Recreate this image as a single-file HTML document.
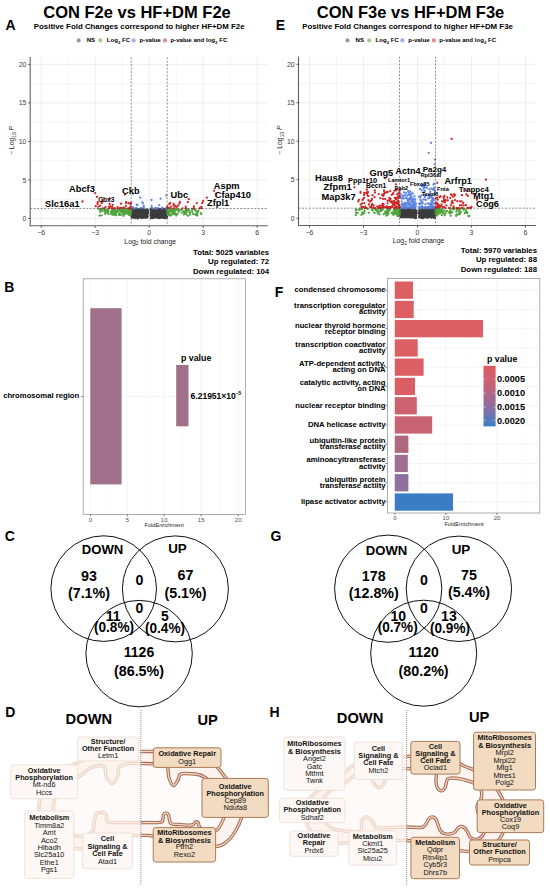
<!DOCTYPE html>
<html><head><meta charset="utf-8"><title>Figure</title>
<style>html,body{margin:0;padding:0;background:#fff;width:550px;height:889px;overflow:hidden}svg{display:block}text{font-family:"Liberation Sans",sans-serif}</style>
</head><body>
<svg width="550" height="889" viewBox="0 0 550 889">
<rect width="550" height="889" fill="#fff"/>
<text x="137.0" y="18.3" font-size="16.5" font-weight="bold" text-anchor="middle" >CON F2e vs HF+DM F2e</text>
<text x="5.6" y="30.3" font-size="14" font-weight="bold" >A</text>
<text x="33.8" y="28.6" font-size="7.87" font-weight="bold" >Positive Fold Changes correspond to higher HF+DM F2e</text>
<circle cx="78.7" cy="40.4" r="2.1" fill="#9a9a9a"/>
<text x="86.7" y="42.4" font-size="6.1" font-weight="bold" >NS</text>
<circle cx="100.4" cy="40.4" r="2.1" fill="#9bd08e"/>
<text x="106.8" y="42.4" font-size="6.1" font-weight="bold" >Log<tspan font-size="4.3" dy="1.3">2</tspan><tspan dy="-1.3"> FC</tspan></text>
<circle cx="133.6" cy="40.4" r="2.1" fill="#9cb1ee"/>
<text x="139.4" y="42.4" font-size="6.1" font-weight="bold" >p-value</text>
<circle cx="165.0" cy="40.4" r="2.1" fill="#e38d8d"/>
<text x="170.4" y="42.4" font-size="6.1" font-weight="bold" >p-value and log<tspan font-size="4.3" dy="1.3">2</tspan><tspan dy="-1.3"> FC</tspan></text>
<text x="410.5" y="18.3" font-size="16.5" font-weight="bold" text-anchor="middle" >CON F3e vs HF+DM F3e</text>
<text x="275.8" y="30.3" font-size="14" font-weight="bold" >E</text>
<text x="302.2" y="28.6" font-size="7.87" font-weight="bold" >Positive Fold Changes correspond to higher HF+DM F3e</text>
<circle cx="347.5" cy="40.4" r="2.1" fill="#9a9a9a"/>
<text x="355.5" y="42.4" font-size="6.1" font-weight="bold" >NS</text>
<circle cx="369.2" cy="40.4" r="2.1" fill="#9bd08e"/>
<text x="375.6" y="42.4" font-size="6.1" font-weight="bold" >Log<tspan font-size="4.3" dy="1.3">2</tspan><tspan dy="-1.3"> FC</tspan></text>
<circle cx="402.4" cy="40.4" r="2.1" fill="#9cb1ee"/>
<text x="408.2" y="42.4" font-size="6.1" font-weight="bold" >p-value</text>
<circle cx="433.8" cy="40.4" r="2.1" fill="#e38d8d"/>
<text x="439.2" y="42.4" font-size="6.1" font-weight="bold" >p-value and log<tspan font-size="4.3" dy="1.3">2</tspan><tspan dy="-1.3"> FC</tspan></text>
<line x1="68.2" y1="57.1" x2="68.2" y2="225.8" stroke="#ededed" stroke-width="0.6"/>
<line x1="122.2" y1="57.1" x2="122.2" y2="225.8" stroke="#ededed" stroke-width="0.6"/>
<line x1="176.2" y1="57.1" x2="176.2" y2="225.8" stroke="#ededed" stroke-width="0.6"/>
<line x1="230.2" y1="57.1" x2="230.2" y2="225.8" stroke="#ededed" stroke-width="0.6"/>
<line x1="30.2" y1="199.2" x2="267.8" y2="199.2" stroke="#ededed" stroke-width="0.6"/>
<line x1="30.2" y1="160.7" x2="267.8" y2="160.7" stroke="#ededed" stroke-width="0.6"/>
<line x1="30.2" y1="122.2" x2="267.8" y2="122.2" stroke="#ededed" stroke-width="0.6"/>
<line x1="30.2" y1="83.7" x2="267.8" y2="83.7" stroke="#ededed" stroke-width="0.6"/>
<line x1="41.2" y1="57.1" x2="41.2" y2="225.8" stroke="#e6e6e6" stroke-width="0.7"/>
<line x1="95.2" y1="57.1" x2="95.2" y2="225.8" stroke="#e6e6e6" stroke-width="0.7"/>
<line x1="149.2" y1="57.1" x2="149.2" y2="225.8" stroke="#e6e6e6" stroke-width="0.7"/>
<line x1="203.2" y1="57.1" x2="203.2" y2="225.8" stroke="#e6e6e6" stroke-width="0.7"/>
<line x1="257.2" y1="57.1" x2="257.2" y2="225.8" stroke="#e6e6e6" stroke-width="0.7"/>
<line x1="30.2" y1="218.5" x2="267.8" y2="218.5" stroke="#e6e6e6" stroke-width="0.7"/>
<line x1="30.2" y1="180.0" x2="267.8" y2="180.0" stroke="#e6e6e6" stroke-width="0.7"/>
<line x1="30.2" y1="141.4" x2="267.8" y2="141.4" stroke="#e6e6e6" stroke-width="0.7"/>
<line x1="30.2" y1="102.9" x2="267.8" y2="102.9" stroke="#e6e6e6" stroke-width="0.7"/>
<line x1="30.2" y1="64.4" x2="267.8" y2="64.4" stroke="#e6e6e6" stroke-width="0.7"/>
<rect x="131.6" y="209.1" width="16.6" height="9.4" fill="#3b3b3b"/>
<rect x="150.3" y="209.1" width="16.6" height="9.4" fill="#3b3b3b"/>
<path d="M141.9 209.5h0M144.5 216.2h0M136.4 209.8h0M131.3 210.3h0M144.9 213.8h0M136.4 215.7h0M135.6 214.0h0M139.9 213.0h0M148.3 210.6h0M141.9 208.6h0M134.9 216.9h0M141.7 218.1h0M131.9 213.3h0M139.2 209.3h0M142.0 213.4h0M139.7 216.0h0M131.5 216.6h0M143.1 216.5h0M137.6 218.5h0M145.4 217.0h0M135.8 209.7h0M140.0 210.0h0M142.2 211.1h0M132.8 213.1h0M139.9 209.8h0M137.4 212.5h0M132.3 214.6h0M136.8 217.0h0M145.2 214.7h0M148.0 212.6h0M141.6 212.1h0M142.8 217.0h0M138.8 216.1h0M138.1 217.5h0M147.8 216.3h0M142.7 215.5h0M146.2 211.9h0M133.5 210.0h0M147.4 209.4h0M141.0 217.0h0M134.5 209.2h0M140.7 216.7h0M146.4 212.1h0M141.0 214.7h0M138.3 216.1h0M131.9 209.7h0M139.2 213.0h0M136.8 211.0h0M131.7 214.8h0M131.8 217.3h0M147.8 211.9h0M138.6 213.3h0M146.2 215.1h0M141.3 211.7h0M137.3 213.3h0M144.3 209.4h0M133.8 209.2h0M131.3 211.0h0M145.1 217.1h0M138.4 210.3h0M131.5 212.2h0M144.8 213.4h0M143.7 216.2h0M134.6 214.9h0M134.3 215.0h0M147.5 212.8h0M137.1 215.8h0M147.5 214.0h0M148.0 213.3h0M140.2 209.5h0M144.0 212.7h0M138.5 209.7h0M138.3 209.3h0M132.4 214.2h0M140.1 209.0h0M135.5 210.4h0M142.8 211.3h0M142.0 208.8h0M136.9 214.5h0M134.7 218.0h0M134.9 209.3h0M145.6 217.4h0M141.6 213.7h0M141.4 211.9h0M136.5 208.9h0M139.2 212.2h0M142.1 216.7h0M132.3 214.4h0M144.3 210.3h0M143.7 217.4h0M165.8 210.5h0M165.2 213.3h0M165.8 218.0h0M150.7 218.3h0M154.5 216.0h0M153.4 212.8h0M150.8 212.6h0M153.0 211.7h0M150.5 215.4h0M166.2 213.1h0M164.0 211.9h0M160.6 216.6h0M160.0 218.1h0M163.9 208.9h0M164.8 218.0h0M155.9 215.3h0M152.1 212.2h0M163.8 215.4h0M164.9 210.5h0M152.4 210.8h0M165.2 216.5h0M160.0 212.1h0M160.6 217.5h0M161.5 212.2h0M164.2 210.5h0M155.7 211.3h0M165.0 209.6h0M152.9 218.2h0M161.3 216.3h0M159.8 209.0h0M156.6 216.0h0M158.0 211.9h0M151.9 214.7h0M152.4 211.9h0M164.4 214.7h0M156.5 213.1h0M153.8 216.0h0M155.8 213.9h0M151.5 211.0h0M160.1 215.5h0M151.5 210.9h0M152.4 217.2h0M152.4 217.7h0M165.6 215.8h0M155.4 210.2h0M160.8 216.6h0M157.6 209.6h0M156.6 211.4h0M151.8 211.2h0M163.4 210.2h0M161.7 214.8h0M151.2 213.3h0M163.1 216.6h0M154.7 213.1h0M162.9 209.5h0M152.3 216.7h0M163.8 212.0h0M162.5 208.5h0M166.2 210.1h0M163.4 214.5h0M161.1 216.7h0M163.1 210.9h0M162.5 214.0h0M156.6 214.3h0M150.7 210.0h0M159.4 214.6h0M159.5 211.3h0M156.7 210.2h0M165.9 214.6h0M152.5 210.9h0M167.1 217.0h0M162.3 210.2h0M165.9 217.3h0M151.7 208.6h0M152.1 216.7h0M160.0 214.0h0M163.0 216.6h0M165.8 216.3h0M163.3 217.8h0M158.2 218.2h0M155.5 215.4h0M162.5 213.9h0M151.1 208.5h0M165.3 209.3h0M154.4 214.6h0M154.0 217.2h0M150.7 213.5h0M152.3 216.7h0M164.9 213.6h0M153.3 211.8h0" stroke="#3b3b3b" stroke-width="2.3" stroke-linecap="round"/>
<path d="M128.8 211.3h0M128.5 211.3h0M117.7 211.2h0M125.9 209.7h0M105.2 213.9h0M130.6 214.5h0M98.4 208.8h0M129.4 208.6h0M129.8 211.4h0M122.8 208.9h0M131.2 212.8h0M118.9 215.0h0M129.3 211.7h0M104.7 209.8h0M107.7 209.8h0M114.1 209.3h0M115.4 210.0h0M128.1 214.0h0M111.7 214.0h0M102.3 210.8h0M127.5 208.8h0M130.4 211.3h0M131.0 208.7h0M119.9 209.6h0M128.5 209.6h0M114.4 210.5h0M100.3 211.9h0M125.4 210.2h0M107.4 212.6h0M115.9 213.6h0M120.8 209.8h0M131.1 210.0h0M131.2 208.7h0M123.7 212.1h0M113.5 211.3h0M113.0 214.8h0M120.4 211.1h0M101.5 215.4h0M124.2 210.6h0M120.9 214.9h0M119.2 213.5h0M129.9 209.2h0M129.9 211.8h0M112.0 210.1h0M120.8 209.6h0M123.8 210.7h0M108.3 210.3h0M117.2 212.1h0M120.6 212.2h0M112.3 212.3h0M123.8 209.9h0M122.6 212.6h0M107.9 212.3h0M106.8 209.7h0M124.4 210.1h0M131.2 212.2h0M105.9 210.9h0M120.6 210.4h0M115.5 210.9h0M125.2 213.8h0M128.3 212.9h0M124.9 208.5h0M127.0 211.8h0M126.5 210.9h0M100.5 209.1h0M126.4 213.1h0M104.5 211.5h0M115.2 215.0h0M105.6 212.8h0M122.9 213.7h0M125.2 209.4h0M107.8 211.6h0M111.1 211.7h0M126.5 211.1h0M129.9 212.7h0M114.2 209.8h0M131.1 210.0h0M108.4 211.8h0M131.1 210.3h0M129.2 210.5h0M126.4 210.6h0M129.0 211.6h0M121.8 210.6h0M129.8 208.7h0M128.4 212.8h0M129.0 215.0h0M125.1 209.8h0M114.0 213.7h0M130.6 212.7h0M111.1 211.5h0M102.1 210.5h0M118.1 209.8h0M112.0 212.5h0M129.0 211.9h0M123.1 214.2h0M124.6 210.6h0M130.6 214.3h0M130.2 213.0h0M99.6 215.6h0M130.1 214.0h0M123.6 215.8h0M124.1 214.0h0M128.8 209.6h0M130.1 210.7h0M125.6 212.0h0M108.4 214.0h0M102.1 209.1h0M116.0 215.2h0M116.2 210.8h0M110.9 213.6h0M100.2 209.1h0M130.8 212.8h0M131.2 209.4h0M102.6 208.5h0M118.4 210.4h0M115.5 211.0h0M100.2 210.8h0M127.4 211.4h0M131.2 210.0h0M114.8 212.0h0M192.0 209.9h0M171.1 214.9h0M167.8 213.8h0M170.4 211.8h0M196.7 213.0h0M194.9 210.3h0M192.2 212.1h0M167.3 209.7h0M169.3 214.2h0M189.1 210.3h0M168.8 213.1h0M197.4 213.1h0M184.1 214.3h0M190.0 214.5h0M176.4 215.4h0M177.6 209.3h0M167.5 213.1h0M187.2 210.7h0M170.6 210.6h0M174.3 209.2h0M170.2 209.8h0M181.1 209.9h0M172.1 210.0h0M183.9 212.2h0M167.3 208.7h0M184.7 213.6h0M185.5 213.0h0M174.8 209.3h0M174.1 213.0h0M170.4 214.9h0M168.9 213.1h0M168.3 215.1h0M174.7 213.6h0M185.9 208.9h0M169.8 211.0h0M176.0 214.9h0M167.8 209.1h0M174.9 209.6h0M167.4 210.8h0M192.9 209.2h0M167.3 211.3h0M171.9 209.8h0M167.4 213.1h0M189.8 211.6h0M174.3 208.7h0M170.7 215.4h0M172.5 214.1h0M167.5 211.0h0M198.3 210.9h0M181.6 212.7h0M178.4 209.9h0M179.1 209.6h0M177.6 213.7h0M178.9 211.5h0M168.2 210.7h0M190.1 214.3h0M177.4 210.0h0M172.8 213.1h0M172.0 211.2h0M183.4 211.1h0M167.6 209.5h0M196.4 214.6h0M169.4 213.9h0M191.9 209.0h0M167.3 212.6h0M168.5 211.6h0M196.3 215.0h0M168.3 211.5h0M176.6 209.9h0M173.8 214.2h0M171.5 208.6h0M186.5 214.5h0M189.6 212.8h0M188.1 215.8h0M193.2 214.0h0M174.4 210.4h0M176.1 214.0h0M167.9 213.0h0M167.3 213.5h0M167.8 211.7h0M171.6 210.9h0M169.9 215.5h0M171.0 209.9h0M169.5 212.1h0M186.7 212.1h0M194.2 208.9h0M170.5 210.0h0M169.4 214.2h0M173.8 210.8h0M197.2 214.2h0M184.6 211.6h0M167.8 208.6h0M183.8 214.4h0M195.3 214.6h0M167.5 212.6h0M197.3 215.5h0M196.1 210.7h0M167.4 211.0h0M174.4 211.0h0M185.8 210.3h0M201.3 214.1h0M189.8 212.1h0M188.2 209.1h0M200.9 213.1h0M174.3 208.8h0M197.8 212.3h0M197.5 212.1h0M172.1 209.8h0M174.8 211.8h0M172.3 211.9h0" stroke="#4fa43d" stroke-width="2.3" stroke-linecap="round"/>
<path d="M134.3 208.5h0M143.7 205.6h0M142.4 202.3h0M135.7 208.1h0M136.4 207.8h0M143.8 207.3h0M137.1 204.8h0M135.0 208.4h0M142.8 203.1h0M136.7 204.8h0M132.7 207.1h0M141.0 208.0h0M137.5 205.1h0M141.2 208.3h0M162.2 208.4h0M166.4 208.2h0M155.1 208.2h0M166.8 207.8h0M160.6 198.7h0M166.1 208.5h0M159.3 205.2h0M162.2 207.6h0M156.2 208.5h0M151.6 205.8h0M152.3 208.2h0M156.3 208.5h0M151.5 200.0h0M157.9 208.2h0M133.1 193.8h0M166.3 195.4h0M140.2 197.7h0" stroke="#5f86e3" stroke-width="2.3" stroke-linecap="round"/>
<path d="M109.0 208.5h0M126.2 202.1h0M100.3 205.7h0M130.0 207.8h0M131.0 208.2h0M131.0 208.4h0M112.3 208.4h0M128.6 202.8h0M123.4 207.7h0M130.1 204.1h0M110.4 206.4h0M112.9 208.4h0M125.8 206.1h0M97.6 203.9h0M111.9 206.6h0M131.1 203.0h0M130.4 208.4h0M109.7 203.9h0M105.5 207.1h0M128.1 208.5h0M102.5 201.9h0M126.2 203.3h0M121.2 207.8h0M117.4 208.5h0M119.7 208.2h0M108.9 206.7h0M101.7 202.9h0M124.1 207.9h0M98.3 206.7h0M129.9 208.5h0M95.7 206.2h0M130.6 206.7h0M117.5 207.2h0M97.7 202.2h0M129.3 208.3h0M121.0 203.7h0M112.7 204.8h0M114.6 208.2h0M104.1 208.5h0M109.5 208.2h0M179.8 201.9h0M182.4 208.5h0M178.3 205.5h0M167.9 208.0h0M167.4 206.5h0M176.6 206.7h0M173.8 205.5h0M170.3 202.8h0M201.3 206.8h0M179.6 203.4h0M173.6 204.0h0M173.5 204.9h0M175.0 206.0h0M199.6 208.5h0M193.9 206.4h0M176.5 207.6h0M168.1 208.0h0M185.8 208.4h0M187.8 202.1h0M202.3 203.0h0M193.9 208.3h0M201.8 208.2h0M196.8 203.1h0M185.8 206.6h0M171.0 206.6h0M173.6 208.4h0M169.3 204.0h0M199.4 208.3h0M167.3 208.0h0M169.4 208.2h0M95.2 193.1h0M82.6 201.5h0M125.0 194.6h0M97.1 196.9h0M102.4 200.0h0M109.7 198.5h0M214.1 190.8h0M215.9 193.8h0M203.2 200.8h0M206.8 197.7h0M188.8 199.2h0" stroke="#cf2626" stroke-width="2.3" stroke-linecap="round"/>
<line x1="131.2" y1="57.1" x2="131.2" y2="225.8" stroke="#444" stroke-width="0.6" stroke-dasharray="2,1.5"/>
<line x1="167.2" y1="57.1" x2="167.2" y2="225.8" stroke="#444" stroke-width="0.6" stroke-dasharray="2,1.5"/>
<line x1="30.2" y1="208.5" x2="267.8" y2="208.5" stroke="#444" stroke-width="0.6" stroke-dasharray="2,1.5"/>
<line x1="30.2" y1="57.1" x2="30.2" y2="226.20000000000002" stroke="#606060" stroke-width="1.1"/>
<line x1="29.7" y1="225.8" x2="267.8" y2="225.8" stroke="#606060" stroke-width="1.1"/>
<line x1="28.2" y1="218.5" x2="30.2" y2="218.5" stroke="#333" stroke-width="0.8"/>
<text x="26.4" y="221.0" font-size="6.9" text-anchor="end" fill="#3a3a3a" >0</text>
<line x1="28.2" y1="180.0" x2="30.2" y2="180.0" stroke="#333" stroke-width="0.8"/>
<text x="26.4" y="182.5" font-size="6.9" text-anchor="end" fill="#3a3a3a" >5</text>
<line x1="28.2" y1="141.4" x2="30.2" y2="141.4" stroke="#333" stroke-width="0.8"/>
<text x="26.4" y="143.9" font-size="6.9" text-anchor="end" fill="#3a3a3a" >10</text>
<line x1="28.2" y1="102.9" x2="30.2" y2="102.9" stroke="#333" stroke-width="0.8"/>
<text x="26.4" y="105.4" font-size="6.9" text-anchor="end" fill="#3a3a3a" >15</text>
<line x1="28.2" y1="64.4" x2="30.2" y2="64.4" stroke="#333" stroke-width="0.8"/>
<text x="26.4" y="66.9" font-size="6.9" text-anchor="end" fill="#3a3a3a" >20</text>
<line x1="41.2" y1="225.8" x2="41.2" y2="227.8" stroke="#333" stroke-width="0.8"/>
<text x="41.2" y="234.9" font-size="6.9" text-anchor="middle" fill="#3a3a3a" >&#8722;6</text>
<line x1="95.2" y1="225.8" x2="95.2" y2="227.8" stroke="#333" stroke-width="0.8"/>
<text x="95.2" y="234.9" font-size="6.9" text-anchor="middle" fill="#3a3a3a" >&#8722;3</text>
<line x1="149.2" y1="225.8" x2="149.2" y2="227.8" stroke="#333" stroke-width="0.8"/>
<text x="149.2" y="234.9" font-size="6.9" text-anchor="middle" fill="#3a3a3a" >0</text>
<line x1="203.2" y1="225.8" x2="203.2" y2="227.8" stroke="#333" stroke-width="0.8"/>
<text x="203.2" y="234.9" font-size="6.9" text-anchor="middle" fill="#3a3a3a" >3</text>
<line x1="257.2" y1="225.8" x2="257.2" y2="227.8" stroke="#333" stroke-width="0.8"/>
<text x="257.2" y="234.9" font-size="6.9" text-anchor="middle" fill="#3a3a3a" >6</text>
<text x="150.2" y="243.70000000000002" font-size="6.9" text-anchor="middle" fill="#222">Log<tspan font-size="4.8" dy="1.5">2</tspan><tspan dy="-1.5"> fold change</tspan></text>
<text transform="translate(14.0,140.45000000000002) rotate(-90)" font-size="6.9" text-anchor="middle" fill="#222">&#8722; Log<tspan font-size="4.8" dy="1.5">10</tspan><tspan dy="-1.5" font-style="italic"> P</tspan></text>
<text x="69.0" y="192.0" font-size="9.3" font-weight="bold" >Abcf3</text>
<text x="45.0" y="207.0" font-size="9.3" font-weight="bold" >Slc16a1</text>
<text x="98.2" y="201.5" font-size="6.6" font-weight="bold" >Cbx3</text>
<text x="122.0" y="194.3" font-size="9.3" font-weight="bold" >Ckb</text>
<text x="170.5" y="198.3" font-size="9.3" font-weight="bold" >Ubc</text>
<text x="213.8" y="189.3" font-size="9.3" font-weight="bold" >Aspm</text>
<text x="214.8" y="197.6" font-size="9.3" font-weight="bold" >Cfap410</text>
<text x="207.0" y="206.4" font-size="9.3" font-weight="bold" >Zfpl1</text>
<line x1="336.5" y1="56.7" x2="336.5" y2="225.5" stroke="#ededed" stroke-width="0.6"/>
<line x1="390.5" y1="56.7" x2="390.5" y2="225.5" stroke="#ededed" stroke-width="0.6"/>
<line x1="444.5" y1="56.7" x2="444.5" y2="225.5" stroke="#ededed" stroke-width="0.6"/>
<line x1="498.5" y1="56.7" x2="498.5" y2="225.5" stroke="#ededed" stroke-width="0.6"/>
<line x1="298.5" y1="199.0" x2="535.8" y2="199.0" stroke="#ededed" stroke-width="0.6"/>
<line x1="298.5" y1="160.5" x2="535.8" y2="160.5" stroke="#ededed" stroke-width="0.6"/>
<line x1="298.5" y1="122.0" x2="535.8" y2="122.0" stroke="#ededed" stroke-width="0.6"/>
<line x1="298.5" y1="83.5" x2="535.8" y2="83.5" stroke="#ededed" stroke-width="0.6"/>
<line x1="309.5" y1="56.7" x2="309.5" y2="225.5" stroke="#e6e6e6" stroke-width="0.7"/>
<line x1="363.5" y1="56.7" x2="363.5" y2="225.5" stroke="#e6e6e6" stroke-width="0.7"/>
<line x1="417.5" y1="56.7" x2="417.5" y2="225.5" stroke="#e6e6e6" stroke-width="0.7"/>
<line x1="471.5" y1="56.7" x2="471.5" y2="225.5" stroke="#e6e6e6" stroke-width="0.7"/>
<line x1="525.5" y1="56.7" x2="525.5" y2="225.5" stroke="#e6e6e6" stroke-width="0.7"/>
<line x1="298.5" y1="218.2" x2="535.8" y2="218.2" stroke="#e6e6e6" stroke-width="0.7"/>
<line x1="298.5" y1="179.7" x2="535.8" y2="179.7" stroke="#e6e6e6" stroke-width="0.7"/>
<line x1="298.5" y1="141.2" x2="535.8" y2="141.2" stroke="#e6e6e6" stroke-width="0.7"/>
<line x1="298.5" y1="102.8" x2="535.8" y2="102.8" stroke="#e6e6e6" stroke-width="0.7"/>
<line x1="298.5" y1="64.3" x2="535.8" y2="64.3" stroke="#e6e6e6" stroke-width="0.7"/>
<rect x="399.9" y="208.8" width="16.6" height="9.4" fill="#3b3b3b"/>
<rect x="418.6" y="208.8" width="16.6" height="9.4" fill="#3b3b3b"/>
<path d="M409.5 214.0h0M406.8 216.1h0M410.9 215.3h0M406.3 213.6h0M415.0 215.7h0M411.8 215.1h0M414.8 214.3h0M408.1 209.4h0M411.0 217.3h0M401.8 208.3h0M400.0 215.2h0M415.9 218.0h0M402.3 216.1h0M401.0 213.5h0M409.6 215.0h0M401.4 210.1h0M413.3 212.6h0M401.9 212.8h0M410.3 213.9h0M414.3 214.3h0M408.2 217.1h0M409.1 210.5h0M412.0 215.6h0M416.5 211.0h0M406.7 214.0h0M412.8 216.4h0M410.4 211.0h0M408.3 209.5h0M407.5 213.5h0M404.4 209.0h0M404.9 211.2h0M406.5 208.8h0M415.7 217.9h0M416.5 212.1h0M400.8 213.2h0M400.3 212.7h0M402.7 214.5h0M404.7 212.2h0M413.6 208.8h0M405.1 212.5h0M399.6 214.5h0M415.9 217.0h0M414.4 211.7h0M404.5 210.4h0M404.4 209.2h0M400.9 217.0h0M412.3 213.7h0M402.0 213.1h0M404.6 212.7h0M412.2 209.6h0M400.5 212.3h0M416.3 213.6h0M412.7 217.2h0M414.4 212.4h0M414.7 210.3h0M414.4 217.6h0M411.7 216.2h0M404.0 215.0h0M409.6 211.9h0M415.4 218.1h0M402.8 214.6h0M413.5 212.7h0M408.3 210.6h0M410.7 215.3h0M401.0 213.6h0M414.6 212.2h0M400.4 213.8h0M406.1 212.4h0M409.5 208.7h0M405.3 214.1h0M410.0 209.3h0M411.6 213.5h0M413.4 213.3h0M416.0 215.4h0M401.7 209.9h0M404.6 209.7h0M409.9 213.1h0M401.0 210.3h0M400.6 208.5h0M414.5 215.2h0M401.7 209.3h0M407.7 217.0h0M408.0 215.7h0M406.5 211.8h0M415.2 210.2h0M402.3 213.4h0M407.9 208.3h0M401.0 213.1h0M415.1 214.2h0M404.0 212.6h0M423.9 208.9h0M419.9 216.1h0M419.8 211.1h0M423.4 209.2h0M433.7 208.8h0M422.8 218.2h0M425.0 208.6h0M431.5 217.6h0M430.4 209.0h0M434.9 211.0h0M433.2 209.8h0M424.5 217.2h0M430.8 216.8h0M425.0 208.2h0M428.0 213.0h0M434.6 215.4h0M435.5 209.1h0M424.6 214.9h0M420.6 209.0h0M421.6 218.1h0M433.6 212.2h0M429.9 210.9h0M419.1 217.3h0M426.9 217.7h0M427.0 210.8h0M429.6 212.0h0M419.2 215.8h0M433.7 217.0h0M427.5 217.7h0M434.5 216.5h0M425.4 212.7h0M430.7 208.8h0M431.0 214.7h0M419.7 211.1h0M435.0 218.0h0M431.6 216.4h0M426.3 213.0h0M428.9 208.3h0M430.2 214.3h0M430.6 213.5h0M425.5 214.5h0M426.8 215.4h0M422.5 216.7h0M425.9 215.3h0M432.7 209.7h0M424.3 212.0h0M433.8 214.6h0M427.9 213.8h0M429.5 208.6h0M420.8 208.5h0M429.8 210.2h0M429.3 209.5h0M424.0 211.1h0M422.9 213.1h0M430.1 216.2h0M419.4 210.3h0M432.2 211.5h0M423.9 211.6h0M419.8 211.6h0M428.3 212.0h0M426.0 215.9h0M430.8 213.6h0M431.1 214.6h0M419.9 212.8h0M429.0 209.0h0M433.6 217.6h0M431.6 215.6h0M430.3 214.4h0M423.9 213.3h0M427.5 211.3h0M429.3 211.4h0M425.0 211.4h0M424.3 212.1h0M426.3 212.6h0M418.7 213.2h0M422.2 214.3h0M419.7 211.6h0M433.7 214.7h0M420.2 212.0h0M420.6 209.3h0M420.5 214.6h0M426.9 217.0h0M423.9 215.4h0M430.6 208.3h0M424.6 210.3h0M420.8 212.4h0M425.8 215.3h0M432.5 210.7h0M420.7 215.3h0M432.4 208.3h0" stroke="#3b3b3b" stroke-width="2.3" stroke-linecap="round"/>
<path d="M390.2 208.9h0M356.7 209.7h0M388.5 213.5h0M397.6 210.5h0M364.3 212.8h0M397.2 215.7h0M385.3 211.7h0M377.7 213.4h0M387.6 210.2h0M395.6 213.8h0M397.0 209.7h0M399.3 214.8h0M395.7 213.3h0M377.4 209.3h0M361.9 209.1h0M388.3 213.8h0M375.4 209.8h0M381.8 210.0h0M374.7 212.8h0M386.9 211.2h0M398.1 212.6h0M399.4 211.4h0M397.7 211.9h0M372.6 210.1h0M386.4 208.3h0M399.2 211.2h0M399.5 212.1h0M361.3 214.8h0M381.0 209.0h0M394.3 209.4h0M396.2 212.4h0M394.4 213.7h0M398.5 212.8h0M356.1 212.5h0M399.1 208.5h0M399.4 208.4h0M372.4 210.3h0M396.5 213.7h0M399.5 214.6h0M397.9 212.0h0M364.6 211.1h0M355.8 209.9h0M399.4 210.9h0M399.4 215.4h0M362.1 212.5h0M399.3 214.6h0M388.0 211.6h0M399.5 209.9h0M398.9 209.5h0M395.0 211.1h0M395.8 210.1h0M355.9 209.4h0M399.5 211.3h0M399.1 214.6h0M399.3 213.2h0M360.0 209.7h0M372.4 210.0h0M398.4 212.1h0M396.2 212.9h0M396.7 209.5h0M399.5 213.0h0M395.2 210.1h0M388.4 209.8h0M399.5 213.8h0M398.5 212.9h0M381.1 208.2h0M386.2 215.5h0M398.6 209.3h0M364.5 210.7h0M398.0 212.4h0M389.1 209.0h0M398.1 213.7h0M399.5 214.3h0M372.6 210.5h0M355.8 215.0h0M397.7 209.4h0M387.5 215.1h0M397.1 210.4h0M385.9 211.6h0M399.3 208.4h0M395.6 209.9h0M393.4 214.9h0M399.1 215.1h0M399.3 213.7h0M396.8 212.6h0M397.7 209.3h0M399.5 214.6h0M376.8 211.1h0M396.3 213.1h0M393.1 213.5h0M371.9 209.2h0M398.3 215.7h0M368.8 212.8h0M387.8 209.0h0M377.6 209.0h0M394.9 209.1h0M395.7 213.1h0M395.2 212.5h0M380.2 209.2h0M399.4 214.0h0M397.4 211.6h0M360.5 208.5h0M359.1 209.8h0M386.6 213.0h0M397.6 216.1h0M374.4 213.0h0M399.5 212.7h0M398.3 209.8h0M399.5 213.4h0M367.8 209.0h0M389.3 210.9h0M399.1 208.9h0M380.7 211.2h0M399.4 213.5h0M397.5 212.5h0M399.5 212.0h0M396.0 212.9h0M397.4 212.5h0M397.5 210.5h0M394.7 213.7h0M377.9 211.2h0M395.8 209.9h0M381.4 209.1h0M376.5 210.2h0M383.7 214.1h0M385.2 213.2h0M398.9 214.4h0M397.2 215.8h0M387.8 209.7h0M379.5 214.4h0M388.7 209.1h0M399.5 213.7h0M398.8 211.6h0M399.3 211.0h0M398.0 210.3h0M393.6 210.1h0M399.0 209.9h0M382.7 209.8h0M399.5 208.5h0M391.8 213.0h0M396.4 211.2h0M394.0 213.2h0M398.9 212.3h0M379.1 211.7h0M399.5 211.6h0M399.2 215.9h0M357.7 212.8h0M393.3 212.3h0M399.5 208.8h0M363.1 213.8h0M440.8 212.2h0M436.2 210.2h0M456.5 209.6h0M450.7 215.8h0M436.9 211.2h0M452.1 212.1h0M441.7 209.1h0M435.5 213.1h0M437.9 208.2h0M436.9 215.3h0M440.7 210.3h0M436.1 209.1h0M436.5 210.0h0M436.2 208.9h0M436.6 209.8h0M459.9 213.2h0M435.7 210.7h0M443.3 211.4h0M456.4 211.6h0M443.2 211.4h0M441.9 212.0h0M436.1 212.8h0M437.4 213.2h0M456.5 214.5h0M436.6 211.1h0M438.3 213.3h0M439.6 211.3h0M450.6 208.4h0M460.9 211.8h0M441.8 211.9h0M437.0 208.5h0M435.6 213.6h0M450.0 210.7h0M437.7 208.6h0M440.5 210.7h0M435.7 208.8h0M435.7 212.1h0M463.1 208.5h0M464.3 209.2h0M437.0 215.6h0M441.8 215.1h0M468.4 216.0h0M438.5 213.6h0M435.5 211.3h0M435.6 208.8h0M451.3 212.2h0M460.1 209.4h0M438.6 209.1h0M466.1 210.5h0M439.1 208.8h0M467.1 212.4h0M435.7 209.0h0M450.2 213.4h0M445.8 212.7h0M465.4 212.5h0M436.5 215.4h0M438.9 208.3h0M436.8 211.6h0M469.3 216.0h0M438.0 209.2h0M435.7 208.6h0M459.7 214.2h0M446.9 210.9h0M451.6 212.7h0M439.9 213.3h0M437.9 213.9h0M464.4 208.8h0M439.3 210.0h0M443.0 213.0h0M439.1 208.4h0M438.9 210.8h0M467.3 212.8h0M458.1 214.5h0M453.7 209.3h0M459.9 208.3h0M452.5 208.3h0M437.7 211.2h0M436.7 214.9h0M441.4 209.9h0M456.2 215.8h0M467.1 213.2h0M437.9 209.2h0M463.6 209.8h0M438.7 211.6h0M459.7 212.3h0M457.9 209.5h0M442.3 208.8h0M439.9 209.7h0M449.0 212.5h0M444.5 210.6h0M444.7 214.5h0M470.8 208.4h0M435.5 208.5h0M444.5 214.4h0M458.8 211.8h0M452.6 209.2h0M444.7 215.3h0M458.9 210.0h0M464.8 213.0h0M456.6 208.9h0" stroke="#4fa43d" stroke-width="2.3" stroke-linecap="round"/>
<path d="M405.6 205.7h0M405.3 208.2h0M403.6 206.6h0M401.6 198.4h0M406.8 203.1h0M404.5 206.3h0M412.1 204.8h0M409.5 205.5h0M408.9 194.3h0M404.2 204.0h0M411.0 208.1h0M415.4 204.4h0M403.8 198.5h0M413.1 201.8h0M414.7 208.1h0M408.4 199.0h0M414.7 201.5h0M409.6 206.0h0M409.1 203.4h0M414.5 196.5h0M411.8 193.3h0M400.9 198.2h0M407.4 198.7h0M404.7 204.9h0M413.2 208.2h0M404.6 204.5h0M413.7 207.2h0M413.2 207.4h0M404.8 203.4h0M410.5 194.8h0M414.1 207.4h0M411.9 201.7h0M406.1 198.1h0M414.4 204.7h0M414.7 208.0h0M402.6 198.4h0M404.8 202.7h0M407.9 207.9h0M412.1 199.0h0M402.2 207.3h0M412.8 193.7h0M414.0 204.3h0M405.8 205.2h0M402.7 204.4h0M403.6 207.9h0M406.0 208.2h0M407.5 200.2h0M410.4 191.4h0M414.2 201.7h0M414.4 205.2h0M412.8 207.1h0M408.4 191.3h0M409.6 204.2h0M412.6 206.8h0M413.3 208.2h0M403.7 207.8h0M404.0 192.5h0M400.2 207.0h0M409.2 200.0h0M412.4 206.1h0M403.4 195.7h0M401.8 208.2h0M403.6 204.5h0M415.1 199.4h0M409.0 204.0h0M411.1 201.9h0M405.3 208.1h0M403.1 197.9h0M410.1 197.4h0M400.6 194.1h0M406.1 193.2h0M409.5 203.5h0M413.1 201.9h0M410.8 207.9h0M409.7 206.4h0M401.1 208.0h0M407.6 207.3h0M412.3 208.0h0M400.1 190.6h0M404.9 204.2h0M403.3 207.6h0M406.4 197.7h0M400.5 196.2h0M415.9 203.3h0M405.7 207.5h0M402.8 206.7h0M413.7 208.2h0M412.6 200.9h0M400.2 208.1h0M411.8 200.8h0M404.9 195.5h0M403.3 205.5h0M401.7 201.4h0M401.3 207.8h0M412.3 204.3h0M410.6 199.2h0M409.7 207.7h0M411.2 208.0h0M404.2 205.2h0M401.7 208.1h0M410.4 199.0h0M405.9 206.0h0M403.2 204.0h0M409.3 193.0h0M400.5 193.9h0M415.9 206.5h0M411.6 196.6h0M410.4 207.0h0M410.0 194.9h0M401.6 204.7h0M400.2 196.0h0M412.5 208.2h0M411.9 200.3h0M401.9 203.9h0M411.0 206.6h0M408.0 191.4h0M410.2 204.3h0M400.9 208.0h0M413.6 199.0h0M413.4 202.9h0M409.2 203.8h0M411.8 206.7h0M407.9 204.8h0M410.6 207.6h0M400.3 208.1h0M402.8 195.6h0M411.5 198.8h0M407.1 208.1h0M407.4 195.4h0M408.1 201.8h0M425.0 207.9h0M429.1 203.9h0M424.5 207.2h0M430.2 206.6h0M428.3 207.2h0M431.1 205.9h0M426.7 187.6h0M430.6 196.4h0M424.4 192.0h0M425.2 184.3h0M433.5 199.1h0M432.4 202.5h0M430.8 208.0h0M435.0 193.8h0M421.2 207.4h0M428.3 195.3h0M421.4 185.8h0M424.5 183.9h0M431.1 203.8h0M424.8 208.1h0M420.4 200.1h0M431.5 188.7h0M424.9 187.1h0M423.7 187.0h0M433.8 207.9h0M432.9 197.6h0M430.3 192.0h0M427.6 203.4h0M424.9 190.8h0M433.5 207.9h0M431.4 207.1h0M421.9 207.7h0M428.2 207.0h0M422.9 208.1h0M424.2 194.9h0M419.3 203.9h0M428.7 208.2h0M423.7 188.7h0M435.0 191.5h0M421.7 195.3h0M426.2 207.8h0M426.7 187.9h0M433.2 205.6h0M420.0 189.0h0M434.9 203.3h0M422.6 202.5h0M430.2 203.9h0M424.7 207.3h0M423.7 208.2h0M423.1 186.3h0M419.1 196.7h0M431.7 205.4h0M428.6 207.5h0M429.8 197.5h0M430.8 203.7h0M434.7 190.7h0M428.2 198.4h0M423.4 186.8h0M429.4 189.3h0M423.6 184.6h0M420.6 202.8h0M420.7 207.7h0M431.3 208.2h0M425.1 207.7h0M432.7 208.1h0M424.4 191.2h0M430.1 197.6h0M435.0 208.2h0M429.7 196.0h0M431.1 197.2h0M420.1 208.1h0M431.5 200.6h0M423.2 208.2h0M427.6 208.1h0M431.1 206.3h0M432.0 208.1h0M426.9 208.1h0M431.6 202.1h0M422.7 185.7h0M430.0 206.4h0M432.8 205.8h0M434.2 206.9h0M434.9 208.2h0M430.8 206.9h0M425.8 199.9h0M419.7 207.5h0M420.6 196.3h0M422.5 203.6h0M424.3 207.4h0M434.1 203.4h0M429.5 197.6h0M432.2 207.2h0M420.2 204.2h0M421.7 208.2h0M433.8 200.2h0M425.7 208.0h0M431.3 202.8h0M421.8 184.6h0M434.3 187.7h0M432.3 202.8h0M423.8 199.4h0M421.4 200.5h0M420.0 208.2h0M430.5 206.3h0M430.2 194.6h0M432.5 200.5h0M432.7 199.2h0M434.0 189.2h0M419.6 207.2h0M425.2 207.3h0M421.8 190.4h0M419.3 207.8h0M431.3 207.5h0M423.1 185.5h0M431.3 204.6h0M421.1 207.1h0M434.8 194.2h0M420.1 197.5h0M425.0 197.0h0M423.7 208.0h0M419.3 206.9h0M432.9 189.5h0M430.0 195.9h0M422.1 206.2h0M433.5 184.4h0M426.1 194.8h0M434.1 183.7h0M423.7 199.3h0M425.3 204.3h0M426.4 207.1h0M431.0 142.8h0M428.7 152.8h0M435.1 159.7h0M434.6 164.3h0" stroke="#5f86e3" stroke-width="2.3" stroke-linecap="round"/>
<path d="M399.5 196.3h0M378.7 194.1h0M398.3 206.8h0M384.0 191.1h0M389.6 207.1h0M384.1 190.4h0M367.9 192.3h0M391.9 206.5h0M367.7 195.7h0M369.0 204.6h0M395.7 206.7h0M367.7 191.7h0M393.3 193.1h0M392.9 203.7h0M385.4 206.9h0M396.1 206.4h0M396.3 202.4h0M399.0 195.9h0M398.0 203.7h0M381.7 207.7h0M391.9 201.4h0M386.2 192.5h0M373.4 207.8h0M370.2 201.6h0M379.7 207.5h0M389.6 198.1h0M372.6 195.2h0M397.2 194.4h0M385.3 198.9h0M369.0 204.4h0M364.2 192.9h0M371.9 204.8h0M387.2 207.4h0M375.0 192.6h0M398.2 196.9h0M378.8 208.1h0M364.4 203.1h0M396.1 208.2h0M373.6 205.5h0M387.8 207.2h0M383.5 204.5h0M372.0 198.9h0M377.2 206.6h0M399.3 192.9h0M363.0 199.5h0M364.0 197.9h0M383.5 204.2h0M393.7 202.9h0M397.1 204.0h0M388.1 208.2h0M392.5 206.2h0M382.1 195.0h0M383.1 199.0h0M383.1 206.5h0M393.0 194.0h0M362.2 207.3h0M399.5 190.3h0M368.4 200.4h0M371.3 200.7h0M365.3 206.7h0M390.6 198.8h0M397.3 197.7h0M396.2 197.8h0M372.1 204.1h0M358.9 199.8h0M375.1 208.2h0M398.8 197.8h0M362.5 199.9h0M364.7 208.1h0M366.2 193.0h0M382.4 204.0h0M378.2 206.7h0M380.3 198.2h0M386.7 206.5h0M399.5 207.2h0M370.2 207.0h0M399.2 206.6h0M387.6 200.8h0M367.2 193.7h0M360.5 192.8h0M390.4 207.6h0M361.5 206.8h0M382.7 206.4h0M371.3 207.1h0M391.5 206.9h0M368.4 200.1h0M382.2 205.8h0M398.0 193.6h0M374.6 197.2h0M358.3 201.4h0M397.9 200.3h0M395.6 202.4h0M390.1 201.3h0M364.1 195.0h0M391.7 194.8h0M368.4 196.1h0M386.1 192.3h0M388.7 207.9h0M396.0 199.2h0M392.9 204.1h0M392.2 207.2h0M399.0 208.1h0M380.0 205.7h0M390.2 191.1h0M382.5 195.0h0M374.8 190.5h0M399.3 204.8h0M362.0 203.4h0M362.1 207.3h0M399.3 192.4h0M391.8 202.5h0M363.0 206.9h0M360.6 204.6h0M396.6 206.8h0M387.6 203.3h0M366.6 208.1h0M399.4 207.5h0M383.5 195.9h0M389.2 200.2h0M381.6 208.2h0M396.6 189.0h0M394.4 190.8h0M388.7 206.9h0M399.5 207.0h0M394.7 203.8h0M390.5 201.7h0M389.5 208.2h0M396.1 190.3h0M399.5 197.2h0M389.4 197.9h0M394.4 205.0h0M387.7 192.0h0M394.5 208.0h0M399.4 192.9h0M394.9 207.8h0M384.0 194.0h0M383.8 207.6h0M392.0 206.4h0M399.5 190.1h0M390.1 207.7h0M366.7 189.5h0M371.4 206.6h0M397.7 202.2h0M384.6 193.0h0M360.6 192.0h0M394.1 200.9h0M398.7 202.3h0M399.2 207.8h0M398.7 206.0h0M395.0 197.9h0M435.8 207.9h0M452.4 201.0h0M455.0 200.1h0M452.7 203.2h0M456.5 208.0h0M437.7 199.7h0M437.4 203.5h0M438.7 205.0h0M461.5 201.3h0M443.9 206.8h0M459.9 201.3h0M443.7 196.8h0M454.1 194.1h0M452.7 196.1h0M447.8 200.3h0M461.9 208.0h0M444.9 202.3h0M435.7 198.6h0M455.2 195.2h0M441.6 204.5h0M466.0 205.2h0M461.5 205.1h0M440.6 206.7h0M437.7 205.0h0M436.9 197.8h0M469.9 208.0h0M435.7 208.2h0M467.2 208.1h0M453.5 206.5h0M437.5 207.0h0M453.9 208.2h0M463.2 202.9h0M438.2 207.3h0M452.3 201.8h0M440.1 206.2h0M444.5 195.8h0M447.3 197.5h0M451.7 203.0h0M445.5 200.9h0M445.5 200.0h0M437.2 206.3h0M463.7 205.4h0M462.0 195.2h0M448.9 208.0h0M457.3 201.2h0M439.4 197.0h0M445.2 208.1h0M435.8 207.2h0M450.3 198.1h0M436.1 208.2h0M450.8 205.3h0M443.8 198.0h0M466.4 194.4h0M458.5 208.2h0M436.7 202.6h0M468.7 208.0h0M446.4 205.4h0M442.6 206.8h0M438.9 207.1h0M436.1 203.1h0M443.9 200.2h0M451.6 194.8h0M440.7 196.5h0M442.0 201.3h0M459.9 205.4h0M443.9 201.8h0M436.2 203.5h0M436.0 207.2h0M450.9 194.3h0M471.5 206.9h0M451.7 138.9h0M485.9 179.7h0M466.1 190.5h0M473.3 193.6h0M367.1 179.7h0M354.5 187.4h0M385.1 178.2h0M395.9 184.3h0M437.3 182.8h0M453.5 196.7h0M476.9 199.7h0M467.9 195.9h0" stroke="#cf2626" stroke-width="2.3" stroke-linecap="round"/>
<line x1="399.5" y1="56.7" x2="399.5" y2="225.5" stroke="#444" stroke-width="0.6" stroke-dasharray="2,1.5"/>
<line x1="435.5" y1="56.7" x2="435.5" y2="225.5" stroke="#444" stroke-width="0.6" stroke-dasharray="2,1.5"/>
<line x1="298.5" y1="208.2" x2="535.8" y2="208.2" stroke="#444" stroke-width="0.6" stroke-dasharray="2,1.5"/>
<line x1="298.5" y1="56.7" x2="298.5" y2="225.9" stroke="#606060" stroke-width="1.1"/>
<line x1="298.0" y1="225.5" x2="535.8" y2="225.5" stroke="#606060" stroke-width="1.1"/>
<line x1="296.5" y1="218.2" x2="298.5" y2="218.2" stroke="#333" stroke-width="0.8"/>
<text x="294.7" y="220.7" font-size="6.9" text-anchor="end" fill="#3a3a3a" >0</text>
<line x1="296.5" y1="179.7" x2="298.5" y2="179.7" stroke="#333" stroke-width="0.8"/>
<text x="294.7" y="182.2" font-size="6.9" text-anchor="end" fill="#3a3a3a" >5</text>
<line x1="296.5" y1="141.2" x2="298.5" y2="141.2" stroke="#333" stroke-width="0.8"/>
<text x="294.7" y="143.8" font-size="6.9" text-anchor="end" fill="#3a3a3a" >10</text>
<line x1="296.5" y1="102.8" x2="298.5" y2="102.8" stroke="#333" stroke-width="0.8"/>
<text x="294.7" y="105.3" font-size="6.9" text-anchor="end" fill="#3a3a3a" >15</text>
<line x1="296.5" y1="64.3" x2="298.5" y2="64.3" stroke="#333" stroke-width="0.8"/>
<text x="294.7" y="66.8" font-size="6.9" text-anchor="end" fill="#3a3a3a" >20</text>
<line x1="309.5" y1="225.5" x2="309.5" y2="227.5" stroke="#333" stroke-width="0.8"/>
<text x="309.5" y="234.6" font-size="6.9" text-anchor="middle" fill="#3a3a3a" >&#8722;6</text>
<line x1="363.5" y1="225.5" x2="363.5" y2="227.5" stroke="#333" stroke-width="0.8"/>
<text x="363.5" y="234.6" font-size="6.9" text-anchor="middle" fill="#3a3a3a" >&#8722;3</text>
<line x1="417.5" y1="225.5" x2="417.5" y2="227.5" stroke="#333" stroke-width="0.8"/>
<text x="417.5" y="234.6" font-size="6.9" text-anchor="middle" fill="#3a3a3a" >0</text>
<line x1="471.5" y1="225.5" x2="471.5" y2="227.5" stroke="#333" stroke-width="0.8"/>
<text x="471.5" y="234.6" font-size="6.9" text-anchor="middle" fill="#3a3a3a" >3</text>
<line x1="525.5" y1="225.5" x2="525.5" y2="227.5" stroke="#333" stroke-width="0.8"/>
<text x="525.5" y="234.6" font-size="6.9" text-anchor="middle" fill="#3a3a3a" >6</text>
<text x="418.5" y="243.4" font-size="6.9" text-anchor="middle" fill="#222">Log<tspan font-size="4.8" dy="1.5">2</tspan><tspan dy="-1.5"> fold change</tspan></text>
<text transform="translate(282.3,140.1) rotate(-90)" font-size="6.9" text-anchor="middle" fill="#222">&#8722; Log<tspan font-size="4.8" dy="1.5">10</tspan><tspan dy="-1.5" font-style="italic"> P</tspan></text>
<text x="314.9" y="180.5" font-size="9.4" font-weight="bold" >Haus8</text>
<text x="348.0" y="182.5" font-size="7.4" font-weight="bold" >Ppp1r10</text>
<text x="323.6" y="190.3" font-size="9.4" font-weight="bold" >Zfpm1</text>
<text x="321.5" y="200.3" font-size="9.3" font-weight="bold" >Map3k7</text>
<text x="369.5" y="176.4" font-size="9.3" font-weight="bold" >Gng5</text>
<text x="366.0" y="188.2" font-size="6.8" font-weight="bold" >Becn1</text>
<text x="395.5" y="174.2" font-size="9.0" font-weight="bold" >Actn4</text>
<text x="422.7" y="171.8" font-size="8.0" font-weight="bold" >Pa2g4</text>
<text x="420.4" y="176.5" font-size="5.8" font-weight="bold" >Rpl36al</text>
<text x="388.0" y="182.4" font-size="5.6" font-weight="bold" >Lamtor1</text>
<text x="394.5" y="190.0" font-size="5.6" font-weight="bold" >Dab2</text>
<text x="410.0" y="186.4" font-size="5.6" font-weight="bold" >Fbxo35</text>
<text x="437.0" y="190.5" font-size="5.6" font-weight="bold" >Fnta</text>
<text x="421.8" y="196.4" font-size="5.4" font-weight="bold" >Tceal8</text>
<text x="444.5" y="183.6" font-size="9.1" font-weight="bold" >Arfrp1</text>
<text x="458.7" y="191.5" font-size="7.9" font-weight="bold" >Trappc4</text>
<text x="473.3" y="199.1" font-size="8.9" font-weight="bold" >Mtg1</text>
<text x="476.0" y="206.8" font-size="9.2" font-weight="bold" >Cog6</text>
<text x="269.2" y="255.0" font-size="7.8" font-weight="bold" text-anchor="end" >Total: 5025 variables</text>
<text x="269.2" y="264.4" font-size="7.8" font-weight="bold" text-anchor="end" >Up regulated: 72</text>
<text x="269.2" y="274.0" font-size="7.8" font-weight="bold" text-anchor="end" >Down regulated: 104</text>
<text x="537.0" y="252.6" font-size="7.8" font-weight="bold" text-anchor="end" >Total: 5970 variables</text>
<text x="537.0" y="262.4" font-size="7.8" font-weight="bold" text-anchor="end" >Up regulated: 88</text>
<text x="537.0" y="271.6" font-size="7.8" font-weight="bold" text-anchor="end" >Down regulated: 188</text>
<text x="4.3" y="292.3" font-size="14" font-weight="bold" >B</text>
<line x1="90.3" y1="278.8" x2="90.3" y2="514.5" stroke="#ebebeb" stroke-width="0.6"/>
<line x1="108.8" y1="278.8" x2="108.8" y2="514.5" stroke="#f4f4f4" stroke-width="0.4"/>
<line x1="127.3" y1="278.8" x2="127.3" y2="514.5" stroke="#ebebeb" stroke-width="0.6"/>
<line x1="145.8" y1="278.8" x2="145.8" y2="514.5" stroke="#f4f4f4" stroke-width="0.4"/>
<line x1="164.2" y1="278.8" x2="164.2" y2="514.5" stroke="#ebebeb" stroke-width="0.6"/>
<line x1="182.7" y1="278.8" x2="182.7" y2="514.5" stroke="#f4f4f4" stroke-width="0.4"/>
<line x1="201.2" y1="278.8" x2="201.2" y2="514.5" stroke="#ebebeb" stroke-width="0.6"/>
<line x1="219.7" y1="278.8" x2="219.7" y2="514.5" stroke="#f4f4f4" stroke-width="0.4"/>
<line x1="238.2" y1="278.8" x2="238.2" y2="514.5" stroke="#ebebeb" stroke-width="0.6"/>
<line x1="83.2" y1="396.6" x2="245.6" y2="396.6" stroke="#ebebeb" stroke-width="0.6"/>
<rect x="90.3" y="308.2" width="31.3" height="176.2" fill="#a1718b"/>
<rect x="83.2" y="278.8" width="162.4" height="235.7" fill="none" stroke="#9a9a9a" stroke-width="0.8"/>
<rect x="176.2" y="365" width="12.3" height="61.3" fill="#a1718b"/>
<text x="181.0" y="360.6" font-size="8.8" font-weight="bold" >p value</text>
<text x="190.6" y="399.3" font-size="8.5" font-weight="bold">6.21951×10<tspan font-size="4.8" dy="-4">&#8722;5</tspan></text>
<text x="79.2" y="398.1" font-size="7.7" font-weight="bold" text-anchor="end" >chromosomal region</text>
<line x1="81.2" y1="396.6" x2="83.2" y2="396.6" stroke="#333" stroke-width="0.6"/>
<line x1="90.3" y1="514.5" x2="90.3" y2="516.5" stroke="#333" stroke-width="0.6"/>
<text x="90.3" y="521.5" font-size="6" text-anchor="middle" fill="#4d4d4d" >0</text>
<line x1="127.3" y1="514.5" x2="127.3" y2="516.5" stroke="#333" stroke-width="0.6"/>
<text x="127.3" y="521.5" font-size="6" text-anchor="middle" fill="#4d4d4d" >5</text>
<line x1="164.2" y1="514.5" x2="164.2" y2="516.5" stroke="#333" stroke-width="0.6"/>
<text x="164.2" y="521.5" font-size="6" text-anchor="middle" fill="#4d4d4d" >10</text>
<line x1="201.2" y1="514.5" x2="201.2" y2="516.5" stroke="#333" stroke-width="0.6"/>
<text x="201.2" y="521.5" font-size="6" text-anchor="middle" fill="#4d4d4d" >15</text>
<line x1="238.2" y1="514.5" x2="238.2" y2="516.5" stroke="#333" stroke-width="0.6"/>
<text x="238.2" y="521.5" font-size="6" text-anchor="middle" fill="#4d4d4d" >20</text>
<text x="164.2" y="527.2" font-size="5.6" text-anchor="middle" fill="#222" >FoldEnrichment</text>
<text x="274.8" y="297.3" font-size="14" font-weight="bold" >F</text>
<line x1="394.8" y1="278.4" x2="394.8" y2="513" stroke="#ebebeb" stroke-width="0.6"/>
<line x1="420.4" y1="278.4" x2="420.4" y2="513" stroke="#f4f4f4" stroke-width="0.4"/>
<line x1="445.9" y1="278.4" x2="445.9" y2="513" stroke="#ebebeb" stroke-width="0.6"/>
<line x1="471.5" y1="278.4" x2="471.5" y2="513" stroke="#f4f4f4" stroke-width="0.4"/>
<line x1="497.0" y1="278.4" x2="497.0" y2="513" stroke="#ebebeb" stroke-width="0.6"/>
<line x1="522.6" y1="278.4" x2="522.6" y2="513" stroke="#f4f4f4" stroke-width="0.4"/>
<line x1="387.5" y1="290.1" x2="539.8" y2="290.1" stroke="#ebebeb" stroke-width="0.6"/>
<line x1="387.5" y1="309.4" x2="539.8" y2="309.4" stroke="#ebebeb" stroke-width="0.6"/>
<line x1="387.5" y1="328.7" x2="539.8" y2="328.7" stroke="#ebebeb" stroke-width="0.6"/>
<line x1="387.5" y1="347.9" x2="539.8" y2="347.9" stroke="#ebebeb" stroke-width="0.6"/>
<line x1="387.5" y1="367.2" x2="539.8" y2="367.2" stroke="#ebebeb" stroke-width="0.6"/>
<line x1="387.5" y1="386.4" x2="539.8" y2="386.4" stroke="#ebebeb" stroke-width="0.6"/>
<line x1="387.5" y1="405.7" x2="539.8" y2="405.7" stroke="#ebebeb" stroke-width="0.6"/>
<line x1="387.5" y1="425.0" x2="539.8" y2="425.0" stroke="#ebebeb" stroke-width="0.6"/>
<line x1="387.5" y1="444.2" x2="539.8" y2="444.2" stroke="#ebebeb" stroke-width="0.6"/>
<line x1="387.5" y1="463.5" x2="539.8" y2="463.5" stroke="#ebebeb" stroke-width="0.6"/>
<line x1="387.5" y1="482.8" x2="539.8" y2="482.8" stroke="#ebebeb" stroke-width="0.6"/>
<line x1="387.5" y1="502.0" x2="539.8" y2="502.0" stroke="#ebebeb" stroke-width="0.6"/>
<rect x="394.8" y="281.5" width="18.2" height="17.3" fill="#dc5f63"/>
<line x1="385.3" y1="290.1" x2="387.5" y2="290.1" stroke="#333" stroke-width="0.6"/>
<text x="385.5" y="292.3" font-size="7.7" font-weight="bold" text-anchor="end" >condensed chromosome</text>
<rect x="394.8" y="300.8" width="18.9" height="17.3" fill="#dc5f63"/>
<line x1="385.3" y1="309.4" x2="387.5" y2="309.4" stroke="#333" stroke-width="0.6"/>
<text x="385.5" y="308.3" font-size="7.7" font-weight="bold" text-anchor="end" >transcription coregulator</text>
<text x="385.5" y="314.4" font-size="7.7" font-weight="bold" text-anchor="end" >activity</text>
<rect x="394.8" y="320.0" width="88.2" height="17.3" fill="#dc5f63"/>
<line x1="385.3" y1="328.7" x2="387.5" y2="328.7" stroke="#333" stroke-width="0.6"/>
<text x="385.5" y="327.6" font-size="7.7" font-weight="bold" text-anchor="end" >nuclear thyroid hormone</text>
<text x="385.5" y="333.7" font-size="7.7" font-weight="bold" text-anchor="end" >receptor binding</text>
<rect x="394.8" y="339.3" width="22.9" height="17.3" fill="#db5f64"/>
<line x1="385.3" y1="347.9" x2="387.5" y2="347.9" stroke="#333" stroke-width="0.6"/>
<text x="385.5" y="346.8" font-size="7.7" font-weight="bold" text-anchor="end" >transcription coactivator</text>
<text x="385.5" y="352.9" font-size="7.7" font-weight="bold" text-anchor="end" >activity</text>
<rect x="394.8" y="358.5" width="28.8" height="17.3" fill="#db5f64"/>
<line x1="385.3" y1="367.2" x2="387.5" y2="367.2" stroke="#333" stroke-width="0.6"/>
<text x="385.5" y="366.1" font-size="7.7" font-weight="bold" text-anchor="end" >ATP-dependent activity,</text>
<text x="385.5" y="372.2" font-size="7.7" font-weight="bold" text-anchor="end" >acting on DNA</text>
<rect x="394.8" y="377.8" width="20.2" height="17.3" fill="#da5f65"/>
<line x1="385.3" y1="386.4" x2="387.5" y2="386.4" stroke="#333" stroke-width="0.6"/>
<text x="385.5" y="385.3" font-size="7.7" font-weight="bold" text-anchor="end" >catalytic activity, acting</text>
<text x="385.5" y="391.4" font-size="7.7" font-weight="bold" text-anchor="end" >on DNA</text>
<rect x="394.8" y="397.1" width="22.0" height="17.3" fill="#cc6270"/>
<line x1="385.3" y1="405.7" x2="387.5" y2="405.7" stroke="#333" stroke-width="0.6"/>
<text x="385.5" y="407.9" font-size="7.7" font-weight="bold" text-anchor="end" >nuclear receptor binding</text>
<rect x="394.8" y="416.3" width="37.4" height="17.3" fill="#c86373"/>
<line x1="385.3" y1="425.0" x2="387.5" y2="425.0" stroke="#333" stroke-width="0.6"/>
<text x="385.5" y="427.2" font-size="7.7" font-weight="bold" text-anchor="end" >DNA helicase activity</text>
<rect x="394.8" y="435.6" width="13.6" height="17.3" fill="#b0687f"/>
<line x1="385.3" y1="444.2" x2="387.5" y2="444.2" stroke="#333" stroke-width="0.6"/>
<text x="385.5" y="443.1" font-size="7.7" font-weight="bold" text-anchor="end" >ubiquitin-like protein</text>
<text x="385.5" y="449.2" font-size="7.7" font-weight="bold" text-anchor="end" >transferase actiity</text>
<rect x="394.8" y="454.8" width="13.0" height="17.3" fill="#a06e91"/>
<line x1="385.3" y1="463.5" x2="387.5" y2="463.5" stroke="#333" stroke-width="0.6"/>
<text x="385.5" y="462.4" font-size="7.7" font-weight="bold" text-anchor="end" >aminoacyltransferase</text>
<text x="385.5" y="468.5" font-size="7.7" font-weight="bold" text-anchor="end" >activity</text>
<rect x="394.8" y="474.1" width="13.6" height="17.3" fill="#8f71a0"/>
<line x1="385.3" y1="482.8" x2="387.5" y2="482.8" stroke="#333" stroke-width="0.6"/>
<text x="385.5" y="481.6" font-size="7.7" font-weight="bold" text-anchor="end" >ubiquitin protein</text>
<text x="385.5" y="487.8" font-size="7.7" font-weight="bold" text-anchor="end" >transferase actiity</text>
<rect x="394.8" y="493.4" width="58.2" height="17.3" fill="#3a7dc4"/>
<line x1="385.3" y1="502.0" x2="387.5" y2="502.0" stroke="#333" stroke-width="0.6"/>
<text x="385.5" y="504.2" font-size="7.7" font-weight="bold" text-anchor="end" >lipase activator activity</text>
<rect x="387.5" y="278.4" width="152.3" height="234.6" fill="none" stroke="#9a9a9a" stroke-width="0.8"/>
<defs><linearGradient id="pg" x1="0" y1="0" x2="0" y2="1"><stop offset="0" stop-color="#e05b5f"/><stop offset="0.35" stop-color="#c2627a"/><stop offset="0.7" stop-color="#8a70a3"/><stop offset="1" stop-color="#3a7fc8"/></linearGradient></defs>
<rect x="483.5" y="365.8" width="12.1" height="60.6" fill="url(#pg)"/>
<text x="487.0" y="362.2" font-size="8.8" font-weight="bold" >p value</text>
<text x="496.9" y="382.4" font-size="9.2" font-weight="bold" >0.0005</text>
<line x1="483.5" y1="379.2" x2="485.5" y2="379.2" stroke="#fff" stroke-width="0.5"/>
<line x1="493.6" y1="379.2" x2="495.6" y2="379.2" stroke="#fff" stroke-width="0.5"/>
<text x="496.9" y="396.3" font-size="9.2" font-weight="bold" >0.0010</text>
<line x1="483.5" y1="393.1" x2="485.5" y2="393.1" stroke="#fff" stroke-width="0.5"/>
<line x1="493.6" y1="393.1" x2="495.6" y2="393.1" stroke="#fff" stroke-width="0.5"/>
<text x="496.9" y="410.3" font-size="9.2" font-weight="bold" >0.0015</text>
<line x1="483.5" y1="407.1" x2="485.5" y2="407.1" stroke="#fff" stroke-width="0.5"/>
<line x1="493.6" y1="407.1" x2="495.6" y2="407.1" stroke="#fff" stroke-width="0.5"/>
<text x="496.9" y="423.5" font-size="9.2" font-weight="bold" >0.0020</text>
<line x1="483.5" y1="420.3" x2="485.5" y2="420.3" stroke="#fff" stroke-width="0.5"/>
<line x1="493.6" y1="420.3" x2="495.6" y2="420.3" stroke="#fff" stroke-width="0.5"/>
<line x1="394.8" y1="513" x2="394.8" y2="515" stroke="#333" stroke-width="0.6"/>
<text x="394.8" y="520.4" font-size="6" text-anchor="middle" fill="#4d4d4d" >0</text>
<line x1="445.9" y1="513" x2="445.9" y2="515" stroke="#333" stroke-width="0.6"/>
<text x="445.9" y="520.4" font-size="6" text-anchor="middle" fill="#4d4d4d" >10</text>
<line x1="497.0" y1="513" x2="497.0" y2="515" stroke="#333" stroke-width="0.6"/>
<text x="497.0" y="520.4" font-size="6" text-anchor="middle" fill="#4d4d4d" >20</text>
<text x="464.0" y="526.2" font-size="5.6" text-anchor="middle" fill="#222" >FoldEnrichment</text>
<text x="4.8" y="540.5" font-size="14" font-weight="bold" >C</text>
<circle cx="103.7" cy="588.6" r="52.8" fill="none" stroke="#111" stroke-width="1"/>
<circle cx="175.4" cy="588.9" r="53" fill="none" stroke="#111" stroke-width="1"/>
<circle cx="139.1" cy="653.6" r="53.2" fill="none" stroke="#111" stroke-width="1"/>
<text x="102.5" y="554.2" font-size="13.1" font-weight="bold" text-anchor="middle" >DOWN</text>
<text x="177.5" y="553.4" font-size="13.4" font-weight="bold" text-anchor="middle" >UP</text>
<text x="89.0" y="580.6" font-size="14.3" font-weight="bold" text-anchor="middle" >93</text>
<text x="89.0" y="597.6" font-size="14.3" font-weight="bold" text-anchor="middle" >(7.1%)</text>
<text x="139.5" y="584.5" font-size="14.2" font-weight="bold" text-anchor="middle" >0</text>
<text x="185.5" y="580.0" font-size="14.3" font-weight="bold" text-anchor="middle" >67</text>
<text x="185.5" y="597.6" font-size="14.3" font-weight="bold" text-anchor="middle" >(5.1%)</text>
<text x="139.5" y="612.8" font-size="14" font-weight="bold" text-anchor="middle" >0</text>
<text x="113.2" y="621.0" font-size="14" font-weight="bold" text-anchor="middle" >11</text>
<text transform="translate(114,632) scale(1,1.12)" font-size="13.6" font-weight="bold" text-anchor="middle">(0.8%)</text>
<text x="165.0" y="621.0" font-size="14" font-weight="bold" text-anchor="middle" >5</text>
<text transform="translate(165,632.8) scale(1,1.12)" font-size="13.6" font-weight="bold" text-anchor="middle">(0.4%)</text>
<text x="139.0" y="657.3" font-size="14" font-weight="bold" text-anchor="middle" >1126</text>
<text x="139.0" y="675.7" font-size="14.3" font-weight="bold" text-anchor="middle" >(86.5%)</text>
<text x="270.6" y="540.5" font-size="14" font-weight="bold" >G</text>
<circle cx="388.2" cy="588.7" r="53.6" fill="none" stroke="#111" stroke-width="1"/>
<circle cx="458.9" cy="588.8" r="52.7" fill="none" stroke="#111" stroke-width="1"/>
<circle cx="423.7" cy="653.2" r="53" fill="none" stroke="#111" stroke-width="1"/>
<text x="386.5" y="555.2" font-size="13.1" font-weight="bold" text-anchor="middle" >DOWN</text>
<text x="461.0" y="553.6" font-size="13.4" font-weight="bold" text-anchor="middle" >UP</text>
<text x="373.8" y="580.6" font-size="14.3" font-weight="bold" text-anchor="middle" >178</text>
<text x="373.8" y="597.6" font-size="14.3" font-weight="bold" text-anchor="middle" >(12.8%)</text>
<text x="424.0" y="584.5" font-size="14.2" font-weight="bold" text-anchor="middle" >0</text>
<text x="469.0" y="579.7" font-size="14.3" font-weight="bold" text-anchor="middle" >75</text>
<text x="469.0" y="596.5" font-size="14.3" font-weight="bold" text-anchor="middle" >(5.4%)</text>
<text x="424.0" y="612.8" font-size="14" font-weight="bold" text-anchor="middle" >0</text>
<text x="398.2" y="621.4" font-size="14" font-weight="bold" text-anchor="middle" >10</text>
<text transform="translate(397.7,632) scale(1,1.12)" font-size="13.6" font-weight="bold" text-anchor="middle">(0.7%)</text>
<text x="448.9" y="621.4" font-size="14" font-weight="bold" text-anchor="middle" >13</text>
<text transform="translate(450,632.5) scale(1,1.12)" font-size="13.6" font-weight="bold" text-anchor="middle">(0.9%)</text>
<text x="423.6" y="657.3" font-size="14" font-weight="bold" text-anchor="middle" >1120</text>
<text x="423.6" y="675.7" font-size="14.3" font-weight="bold" text-anchor="middle" >(80.2%)</text>
<defs><clipPath id="cDl"><rect x="0" y="690" width="140.9" height="199"/></clipPath><clipPath id="cDr"><rect x="140.9" y="690" width="134.1" height="199"/></clipPath><clipPath id="cHl"><rect x="275" y="690" width="131.8" height="199"/></clipPath><clipPath id="cHr"><rect x="406.8" y="690" width="143.2" height="199"/></clipPath></defs>
<g clip-path="url(#cDl)">
<path d="M141.0 751.5C149.3 751.5 161.0 751.3 170.0 751.5C179.0 751.7 187.8 750.6 195.0 752.5C202.2 754.4 207.8 758.8 213.0 763.0C218.2 767.2 221.8 773.2 226.0 778.0C230.2 782.8 235.0 787.5 238.0 792.0C241.0 796.5 243.4 800.7 244.0 805.0C244.6 809.3 242.8 813.8 241.5 818.0C240.2 822.2 238.2 826.3 236.0 830.0C233.8 833.7 231.9 837.2 228.6 840.0C225.3 842.8 223.3 846.2 216.0 846.5C208.7 846.8 195.5 843.8 185.0 842.0C174.5 840.2 160.3 837.1 153.0 836.0C145.7 834.9 144.8 835.5 141.0 835.5C137.2 835.5 136.8 834.8 130.0 836.0C123.2 837.2 108.7 840.8 100.0 843.0C91.3 845.2 85.5 849.8 78.0 849.0C70.5 848.2 61.2 842.8 55.0 838.0C48.8 833.2 43.7 825.5 41.0 820.0C38.3 814.5 38.3 810.7 39.0 805.0C39.7 799.3 41.5 791.7 45.0 786.0C48.5 780.3 54.7 774.8 60.0 771.0C65.3 767.2 71.2 765.8 77.0 763.0C82.8 760.2 87.8 755.9 95.0 754.0C102.2 752.1 112.3 751.9 120.0 751.5C127.7 751.1 132.7 751.5 141.0 751.5Z" fill="#fdf4f0"/>
<path d="M141.0 763.5C146.0 763.6 155.7 763.7 160.0 764.0C164.3 764.3 165.5 763.2 167.0 765.5C168.5 767.8 167.9 774.7 169.0 778.0C170.1 781.3 172.1 785.3 173.7 785.5C175.3 785.7 177.4 780.8 178.5 779.0C179.6 777.2 178.8 775.4 180.0 774.5C181.2 773.6 182.7 773.4 186.0 773.5C189.3 773.6 196.0 773.8 200.0 775.0C204.0 776.2 206.3 778.2 210.0 781.0C213.7 783.8 219.2 788.3 222.0 792.0C224.8 795.7 226.5 799.2 227.0 803.0C227.5 806.8 226.7 810.5 225.0 815.0C223.3 819.5 220.0 827.3 217.0 830.0C214.0 832.7 209.8 831.4 207.0 831.0C204.2 830.6 201.5 828.9 200.0 827.5C198.5 826.1 198.8 823.4 198.0 822.5C197.2 821.6 196.5 821.6 195.5 822.0C194.5 822.4 194.6 824.6 192.0 825.0C189.4 825.4 183.5 824.8 180.0 824.5C176.5 824.2 172.9 825.1 171.0 823.5C169.1 821.9 169.3 816.8 168.5 815.0C167.7 813.2 166.8 813.0 166.0 813.0C165.2 813.0 164.2 813.5 163.5 815.0C162.8 816.5 163.8 820.8 161.5 822.0C159.2 823.2 156.9 822.4 150.0 822.5C143.1 822.6 127.0 822.6 120.0 822.5C113.0 822.4 110.3 823.4 108.0 822.0C105.7 820.6 107.2 815.6 106.0 814.0C104.8 812.4 102.7 812.2 101.0 812.2C99.3 812.2 97.2 812.0 96.0 814.0C94.8 816.0 94.7 821.0 94.0 824.0C93.3 827.0 94.7 830.0 92.0 832.0C89.3 834.0 83.0 836.7 78.0 836.0C73.0 835.3 65.8 831.3 62.0 828.0C58.2 824.7 56.4 819.8 55.0 816.0C53.6 812.2 53.0 809.2 53.5 805.0C54.0 800.8 55.8 794.8 58.0 791.0C60.2 787.2 63.6 784.3 67.0 782.0C70.4 779.7 74.4 779.4 78.5 777.0C82.6 774.6 87.5 769.2 91.8 767.5C96.0 765.8 101.6 765.1 104.0 766.5C106.4 767.9 104.7 773.2 106.0 776.0C107.3 778.8 110.1 783.2 112.0 783.4C113.9 783.6 116.2 779.7 117.5 777.0C118.8 774.3 117.4 769.2 119.5 767.0C121.6 764.8 126.4 764.2 130.0 763.6C133.6 763.0 136.0 763.4 141.0 763.5Z" fill="#fefaf9"/>
<path d="M141.0 751.5C149.3 751.5 161.0 751.3 170.0 751.5C179.0 751.7 187.8 750.6 195.0 752.5C202.2 754.4 207.8 758.8 213.0 763.0C218.2 767.2 221.8 773.2 226.0 778.0C230.2 782.8 235.0 787.5 238.0 792.0C241.0 796.5 243.4 800.7 244.0 805.0C244.6 809.3 242.8 813.8 241.5 818.0C240.2 822.2 238.2 826.3 236.0 830.0C233.8 833.7 231.9 837.2 228.6 840.0C225.3 842.8 223.3 846.2 216.0 846.5C208.7 846.8 195.5 843.8 185.0 842.0C174.5 840.2 160.3 837.1 153.0 836.0C145.7 834.9 144.8 835.5 141.0 835.5C137.2 835.5 136.8 834.8 130.0 836.0C123.2 837.2 108.7 840.8 100.0 843.0C91.3 845.2 85.5 849.8 78.0 849.0C70.5 848.2 61.2 842.8 55.0 838.0C48.8 833.2 43.7 825.5 41.0 820.0C38.3 814.5 38.3 810.7 39.0 805.0C39.7 799.3 41.5 791.7 45.0 786.0C48.5 780.3 54.7 774.8 60.0 771.0C65.3 767.2 71.2 765.8 77.0 763.0C82.8 760.2 87.8 755.9 95.0 754.0C102.2 752.1 112.3 751.9 120.0 751.5C127.7 751.1 132.7 751.5 141.0 751.5Z" fill="none" stroke="#ecd3c6" stroke-width="3.4" stroke-linejoin="round"/>
<path d="M141.0 751.5C149.3 751.5 161.0 751.3 170.0 751.5C179.0 751.7 187.8 750.6 195.0 752.5C202.2 754.4 207.8 758.8 213.0 763.0C218.2 767.2 221.8 773.2 226.0 778.0C230.2 782.8 235.0 787.5 238.0 792.0C241.0 796.5 243.4 800.7 244.0 805.0C244.6 809.3 242.8 813.8 241.5 818.0C240.2 822.2 238.2 826.3 236.0 830.0C233.8 833.7 231.9 837.2 228.6 840.0C225.3 842.8 223.3 846.2 216.0 846.5C208.7 846.8 195.5 843.8 185.0 842.0C174.5 840.2 160.3 837.1 153.0 836.0C145.7 834.9 144.8 835.5 141.0 835.5C137.2 835.5 136.8 834.8 130.0 836.0C123.2 837.2 108.7 840.8 100.0 843.0C91.3 845.2 85.5 849.8 78.0 849.0C70.5 848.2 61.2 842.8 55.0 838.0C48.8 833.2 43.7 825.5 41.0 820.0C38.3 814.5 38.3 810.7 39.0 805.0C39.7 799.3 41.5 791.7 45.0 786.0C48.5 780.3 54.7 774.8 60.0 771.0C65.3 767.2 71.2 765.8 77.0 763.0C82.8 760.2 87.8 755.9 95.0 754.0C102.2 752.1 112.3 751.9 120.0 751.5C127.7 751.1 132.7 751.5 141.0 751.5Z" fill="none" stroke="#fbefe9" stroke-width="1.3" stroke-linejoin="round"/>
<path d="M141.0 763.5C146.0 763.6 155.7 763.7 160.0 764.0C164.3 764.3 165.5 763.2 167.0 765.5C168.5 767.8 167.9 774.7 169.0 778.0C170.1 781.3 172.1 785.3 173.7 785.5C175.3 785.7 177.4 780.8 178.5 779.0C179.6 777.2 178.8 775.4 180.0 774.5C181.2 773.6 182.7 773.4 186.0 773.5C189.3 773.6 196.0 773.8 200.0 775.0C204.0 776.2 206.3 778.2 210.0 781.0C213.7 783.8 219.2 788.3 222.0 792.0C224.8 795.7 226.5 799.2 227.0 803.0C227.5 806.8 226.7 810.5 225.0 815.0C223.3 819.5 220.0 827.3 217.0 830.0C214.0 832.7 209.8 831.4 207.0 831.0C204.2 830.6 201.5 828.9 200.0 827.5C198.5 826.1 198.8 823.4 198.0 822.5C197.2 821.6 196.5 821.6 195.5 822.0C194.5 822.4 194.6 824.6 192.0 825.0C189.4 825.4 183.5 824.8 180.0 824.5C176.5 824.2 172.9 825.1 171.0 823.5C169.1 821.9 169.3 816.8 168.5 815.0C167.7 813.2 166.8 813.0 166.0 813.0C165.2 813.0 164.2 813.5 163.5 815.0C162.8 816.5 163.8 820.8 161.5 822.0C159.2 823.2 156.9 822.4 150.0 822.5C143.1 822.6 127.0 822.6 120.0 822.5C113.0 822.4 110.3 823.4 108.0 822.0C105.7 820.6 107.2 815.6 106.0 814.0C104.8 812.4 102.7 812.2 101.0 812.2C99.3 812.2 97.2 812.0 96.0 814.0C94.8 816.0 94.7 821.0 94.0 824.0C93.3 827.0 94.7 830.0 92.0 832.0C89.3 834.0 83.0 836.7 78.0 836.0C73.0 835.3 65.8 831.3 62.0 828.0C58.2 824.7 56.4 819.8 55.0 816.0C53.6 812.2 53.0 809.2 53.5 805.0C54.0 800.8 55.8 794.8 58.0 791.0C60.2 787.2 63.6 784.3 67.0 782.0C70.4 779.7 74.4 779.4 78.5 777.0C82.6 774.6 87.5 769.2 91.8 767.5C96.0 765.8 101.6 765.1 104.0 766.5C106.4 767.9 104.7 773.2 106.0 776.0C107.3 778.8 110.1 783.2 112.0 783.4C113.9 783.6 116.2 779.7 117.5 777.0C118.8 774.3 117.4 769.2 119.5 767.0C121.6 764.8 126.4 764.2 130.0 763.6C133.6 763.0 136.0 763.4 141.0 763.5Z" fill="none" stroke="#ecd3c6" stroke-width="3.4" stroke-linejoin="round"/>
<path d="M141.0 763.5C146.0 763.6 155.7 763.7 160.0 764.0C164.3 764.3 165.5 763.2 167.0 765.5C168.5 767.8 167.9 774.7 169.0 778.0C170.1 781.3 172.1 785.3 173.7 785.5C175.3 785.7 177.4 780.8 178.5 779.0C179.6 777.2 178.8 775.4 180.0 774.5C181.2 773.6 182.7 773.4 186.0 773.5C189.3 773.6 196.0 773.8 200.0 775.0C204.0 776.2 206.3 778.2 210.0 781.0C213.7 783.8 219.2 788.3 222.0 792.0C224.8 795.7 226.5 799.2 227.0 803.0C227.5 806.8 226.7 810.5 225.0 815.0C223.3 819.5 220.0 827.3 217.0 830.0C214.0 832.7 209.8 831.4 207.0 831.0C204.2 830.6 201.5 828.9 200.0 827.5C198.5 826.1 198.8 823.4 198.0 822.5C197.2 821.6 196.5 821.6 195.5 822.0C194.5 822.4 194.6 824.6 192.0 825.0C189.4 825.4 183.5 824.8 180.0 824.5C176.5 824.2 172.9 825.1 171.0 823.5C169.1 821.9 169.3 816.8 168.5 815.0C167.7 813.2 166.8 813.0 166.0 813.0C165.2 813.0 164.2 813.5 163.5 815.0C162.8 816.5 163.8 820.8 161.5 822.0C159.2 823.2 156.9 822.4 150.0 822.5C143.1 822.6 127.0 822.6 120.0 822.5C113.0 822.4 110.3 823.4 108.0 822.0C105.7 820.6 107.2 815.6 106.0 814.0C104.8 812.4 102.7 812.2 101.0 812.2C99.3 812.2 97.2 812.0 96.0 814.0C94.8 816.0 94.7 821.0 94.0 824.0C93.3 827.0 94.7 830.0 92.0 832.0C89.3 834.0 83.0 836.7 78.0 836.0C73.0 835.3 65.8 831.3 62.0 828.0C58.2 824.7 56.4 819.8 55.0 816.0C53.6 812.2 53.0 809.2 53.5 805.0C54.0 800.8 55.8 794.8 58.0 791.0C60.2 787.2 63.6 784.3 67.0 782.0C70.4 779.7 74.4 779.4 78.5 777.0C82.6 774.6 87.5 769.2 91.8 767.5C96.0 765.8 101.6 765.1 104.0 766.5C106.4 767.9 104.7 773.2 106.0 776.0C107.3 778.8 110.1 783.2 112.0 783.4C113.9 783.6 116.2 779.7 117.5 777.0C118.8 774.3 117.4 769.2 119.5 767.0C121.6 764.8 126.4 764.2 130.0 763.6C133.6 763.0 136.0 763.4 141.0 763.5Z" fill="none" stroke="#fbefe9" stroke-width="1.3" stroke-linejoin="round"/>
</g>
<g clip-path="url(#cDr)">
<path d="M141.0 751.5C149.3 751.5 161.0 751.3 170.0 751.5C179.0 751.7 187.8 750.6 195.0 752.5C202.2 754.4 207.8 758.8 213.0 763.0C218.2 767.2 221.8 773.2 226.0 778.0C230.2 782.8 235.0 787.5 238.0 792.0C241.0 796.5 243.4 800.7 244.0 805.0C244.6 809.3 242.8 813.8 241.5 818.0C240.2 822.2 238.2 826.3 236.0 830.0C233.8 833.7 231.9 837.2 228.6 840.0C225.3 842.8 223.3 846.2 216.0 846.5C208.7 846.8 195.5 843.8 185.0 842.0C174.5 840.2 160.3 837.1 153.0 836.0C145.7 834.9 144.8 835.5 141.0 835.5C137.2 835.5 136.8 834.8 130.0 836.0C123.2 837.2 108.7 840.8 100.0 843.0C91.3 845.2 85.5 849.8 78.0 849.0C70.5 848.2 61.2 842.8 55.0 838.0C48.8 833.2 43.7 825.5 41.0 820.0C38.3 814.5 38.3 810.7 39.0 805.0C39.7 799.3 41.5 791.7 45.0 786.0C48.5 780.3 54.7 774.8 60.0 771.0C65.3 767.2 71.2 765.8 77.0 763.0C82.8 760.2 87.8 755.9 95.0 754.0C102.2 752.1 112.3 751.9 120.0 751.5C127.7 751.1 132.7 751.5 141.0 751.5Z" fill="#fdf4f0"/>
<path d="M141.0 763.5C146.0 763.6 155.7 763.7 160.0 764.0C164.3 764.3 165.5 763.2 167.0 765.5C168.5 767.8 167.9 774.7 169.0 778.0C170.1 781.3 172.1 785.3 173.7 785.5C175.3 785.7 177.4 780.8 178.5 779.0C179.6 777.2 178.8 775.4 180.0 774.5C181.2 773.6 182.7 773.4 186.0 773.5C189.3 773.6 196.0 773.8 200.0 775.0C204.0 776.2 206.3 778.2 210.0 781.0C213.7 783.8 219.2 788.3 222.0 792.0C224.8 795.7 226.5 799.2 227.0 803.0C227.5 806.8 226.7 810.5 225.0 815.0C223.3 819.5 220.0 827.3 217.0 830.0C214.0 832.7 209.8 831.4 207.0 831.0C204.2 830.6 201.5 828.9 200.0 827.5C198.5 826.1 198.8 823.4 198.0 822.5C197.2 821.6 196.5 821.6 195.5 822.0C194.5 822.4 194.6 824.6 192.0 825.0C189.4 825.4 183.5 824.8 180.0 824.5C176.5 824.2 172.9 825.1 171.0 823.5C169.1 821.9 169.3 816.8 168.5 815.0C167.7 813.2 166.8 813.0 166.0 813.0C165.2 813.0 164.2 813.5 163.5 815.0C162.8 816.5 163.8 820.8 161.5 822.0C159.2 823.2 156.9 822.4 150.0 822.5C143.1 822.6 127.0 822.6 120.0 822.5C113.0 822.4 110.3 823.4 108.0 822.0C105.7 820.6 107.2 815.6 106.0 814.0C104.8 812.4 102.7 812.2 101.0 812.2C99.3 812.2 97.2 812.0 96.0 814.0C94.8 816.0 94.7 821.0 94.0 824.0C93.3 827.0 94.7 830.0 92.0 832.0C89.3 834.0 83.0 836.7 78.0 836.0C73.0 835.3 65.8 831.3 62.0 828.0C58.2 824.7 56.4 819.8 55.0 816.0C53.6 812.2 53.0 809.2 53.5 805.0C54.0 800.8 55.8 794.8 58.0 791.0C60.2 787.2 63.6 784.3 67.0 782.0C70.4 779.7 74.4 779.4 78.5 777.0C82.6 774.6 87.5 769.2 91.8 767.5C96.0 765.8 101.6 765.1 104.0 766.5C106.4 767.9 104.7 773.2 106.0 776.0C107.3 778.8 110.1 783.2 112.0 783.4C113.9 783.6 116.2 779.7 117.5 777.0C118.8 774.3 117.4 769.2 119.5 767.0C121.6 764.8 126.4 764.2 130.0 763.6C133.6 763.0 136.0 763.4 141.0 763.5Z" fill="#fefbfa"/>
<path d="M141.0 751.5C149.3 751.5 161.0 751.3 170.0 751.5C179.0 751.7 187.8 750.6 195.0 752.5C202.2 754.4 207.8 758.8 213.0 763.0C218.2 767.2 221.8 773.2 226.0 778.0C230.2 782.8 235.0 787.5 238.0 792.0C241.0 796.5 243.4 800.7 244.0 805.0C244.6 809.3 242.8 813.8 241.5 818.0C240.2 822.2 238.2 826.3 236.0 830.0C233.8 833.7 231.9 837.2 228.6 840.0C225.3 842.8 223.3 846.2 216.0 846.5C208.7 846.8 195.5 843.8 185.0 842.0C174.5 840.2 160.3 837.1 153.0 836.0C145.7 834.9 144.8 835.5 141.0 835.5C137.2 835.5 136.8 834.8 130.0 836.0C123.2 837.2 108.7 840.8 100.0 843.0C91.3 845.2 85.5 849.8 78.0 849.0C70.5 848.2 61.2 842.8 55.0 838.0C48.8 833.2 43.7 825.5 41.0 820.0C38.3 814.5 38.3 810.7 39.0 805.0C39.7 799.3 41.5 791.7 45.0 786.0C48.5 780.3 54.7 774.8 60.0 771.0C65.3 767.2 71.2 765.8 77.0 763.0C82.8 760.2 87.8 755.9 95.0 754.0C102.2 752.1 112.3 751.9 120.0 751.5C127.7 751.1 132.7 751.5 141.0 751.5Z" fill="none" stroke="#a56d55" stroke-width="3.4" stroke-linejoin="round"/>
<path d="M141.0 751.5C149.3 751.5 161.0 751.3 170.0 751.5C179.0 751.7 187.8 750.6 195.0 752.5C202.2 754.4 207.8 758.8 213.0 763.0C218.2 767.2 221.8 773.2 226.0 778.0C230.2 782.8 235.0 787.5 238.0 792.0C241.0 796.5 243.4 800.7 244.0 805.0C244.6 809.3 242.8 813.8 241.5 818.0C240.2 822.2 238.2 826.3 236.0 830.0C233.8 833.7 231.9 837.2 228.6 840.0C225.3 842.8 223.3 846.2 216.0 846.5C208.7 846.8 195.5 843.8 185.0 842.0C174.5 840.2 160.3 837.1 153.0 836.0C145.7 834.9 144.8 835.5 141.0 835.5C137.2 835.5 136.8 834.8 130.0 836.0C123.2 837.2 108.7 840.8 100.0 843.0C91.3 845.2 85.5 849.8 78.0 849.0C70.5 848.2 61.2 842.8 55.0 838.0C48.8 833.2 43.7 825.5 41.0 820.0C38.3 814.5 38.3 810.7 39.0 805.0C39.7 799.3 41.5 791.7 45.0 786.0C48.5 780.3 54.7 774.8 60.0 771.0C65.3 767.2 71.2 765.8 77.0 763.0C82.8 760.2 87.8 755.9 95.0 754.0C102.2 752.1 112.3 751.9 120.0 751.5C127.7 751.1 132.7 751.5 141.0 751.5Z" fill="none" stroke="#f3d3c3" stroke-width="1.3" stroke-linejoin="round"/>
<path d="M141.0 763.5C146.0 763.6 155.7 763.7 160.0 764.0C164.3 764.3 165.5 763.2 167.0 765.5C168.5 767.8 167.9 774.7 169.0 778.0C170.1 781.3 172.1 785.3 173.7 785.5C175.3 785.7 177.4 780.8 178.5 779.0C179.6 777.2 178.8 775.4 180.0 774.5C181.2 773.6 182.7 773.4 186.0 773.5C189.3 773.6 196.0 773.8 200.0 775.0C204.0 776.2 206.3 778.2 210.0 781.0C213.7 783.8 219.2 788.3 222.0 792.0C224.8 795.7 226.5 799.2 227.0 803.0C227.5 806.8 226.7 810.5 225.0 815.0C223.3 819.5 220.0 827.3 217.0 830.0C214.0 832.7 209.8 831.4 207.0 831.0C204.2 830.6 201.5 828.9 200.0 827.5C198.5 826.1 198.8 823.4 198.0 822.5C197.2 821.6 196.5 821.6 195.5 822.0C194.5 822.4 194.6 824.6 192.0 825.0C189.4 825.4 183.5 824.8 180.0 824.5C176.5 824.2 172.9 825.1 171.0 823.5C169.1 821.9 169.3 816.8 168.5 815.0C167.7 813.2 166.8 813.0 166.0 813.0C165.2 813.0 164.2 813.5 163.5 815.0C162.8 816.5 163.8 820.8 161.5 822.0C159.2 823.2 156.9 822.4 150.0 822.5C143.1 822.6 127.0 822.6 120.0 822.5C113.0 822.4 110.3 823.4 108.0 822.0C105.7 820.6 107.2 815.6 106.0 814.0C104.8 812.4 102.7 812.2 101.0 812.2C99.3 812.2 97.2 812.0 96.0 814.0C94.8 816.0 94.7 821.0 94.0 824.0C93.3 827.0 94.7 830.0 92.0 832.0C89.3 834.0 83.0 836.7 78.0 836.0C73.0 835.3 65.8 831.3 62.0 828.0C58.2 824.7 56.4 819.8 55.0 816.0C53.6 812.2 53.0 809.2 53.5 805.0C54.0 800.8 55.8 794.8 58.0 791.0C60.2 787.2 63.6 784.3 67.0 782.0C70.4 779.7 74.4 779.4 78.5 777.0C82.6 774.6 87.5 769.2 91.8 767.5C96.0 765.8 101.6 765.1 104.0 766.5C106.4 767.9 104.7 773.2 106.0 776.0C107.3 778.8 110.1 783.2 112.0 783.4C113.9 783.6 116.2 779.7 117.5 777.0C118.8 774.3 117.4 769.2 119.5 767.0C121.6 764.8 126.4 764.2 130.0 763.6C133.6 763.0 136.0 763.4 141.0 763.5Z" fill="none" stroke="#a56d55" stroke-width="3.4" stroke-linejoin="round"/>
<path d="M141.0 763.5C146.0 763.6 155.7 763.7 160.0 764.0C164.3 764.3 165.5 763.2 167.0 765.5C168.5 767.8 167.9 774.7 169.0 778.0C170.1 781.3 172.1 785.3 173.7 785.5C175.3 785.7 177.4 780.8 178.5 779.0C179.6 777.2 178.8 775.4 180.0 774.5C181.2 773.6 182.7 773.4 186.0 773.5C189.3 773.6 196.0 773.8 200.0 775.0C204.0 776.2 206.3 778.2 210.0 781.0C213.7 783.8 219.2 788.3 222.0 792.0C224.8 795.7 226.5 799.2 227.0 803.0C227.5 806.8 226.7 810.5 225.0 815.0C223.3 819.5 220.0 827.3 217.0 830.0C214.0 832.7 209.8 831.4 207.0 831.0C204.2 830.6 201.5 828.9 200.0 827.5C198.5 826.1 198.8 823.4 198.0 822.5C197.2 821.6 196.5 821.6 195.5 822.0C194.5 822.4 194.6 824.6 192.0 825.0C189.4 825.4 183.5 824.8 180.0 824.5C176.5 824.2 172.9 825.1 171.0 823.5C169.1 821.9 169.3 816.8 168.5 815.0C167.7 813.2 166.8 813.0 166.0 813.0C165.2 813.0 164.2 813.5 163.5 815.0C162.8 816.5 163.8 820.8 161.5 822.0C159.2 823.2 156.9 822.4 150.0 822.5C143.1 822.6 127.0 822.6 120.0 822.5C113.0 822.4 110.3 823.4 108.0 822.0C105.7 820.6 107.2 815.6 106.0 814.0C104.8 812.4 102.7 812.2 101.0 812.2C99.3 812.2 97.2 812.0 96.0 814.0C94.8 816.0 94.7 821.0 94.0 824.0C93.3 827.0 94.7 830.0 92.0 832.0C89.3 834.0 83.0 836.7 78.0 836.0C73.0 835.3 65.8 831.3 62.0 828.0C58.2 824.7 56.4 819.8 55.0 816.0C53.6 812.2 53.0 809.2 53.5 805.0C54.0 800.8 55.8 794.8 58.0 791.0C60.2 787.2 63.6 784.3 67.0 782.0C70.4 779.7 74.4 779.4 78.5 777.0C82.6 774.6 87.5 769.2 91.8 767.5C96.0 765.8 101.6 765.1 104.0 766.5C106.4 767.9 104.7 773.2 106.0 776.0C107.3 778.8 110.1 783.2 112.0 783.4C113.9 783.6 116.2 779.7 117.5 777.0C118.8 774.3 117.4 769.2 119.5 767.0C121.6 764.8 126.4 764.2 130.0 763.6C133.6 763.0 136.0 763.4 141.0 763.5Z" fill="none" stroke="#f3d3c3" stroke-width="1.3" stroke-linejoin="round"/>
</g>
<g clip-path="url(#cHl)">
<path d="M406.8 756.4C415.1 756.1 422.8 756.4 430.0 756.8C437.2 757.1 444.5 757.0 450.0 758.5C455.5 760.0 458.7 763.4 463.0 765.5C467.3 767.6 471.2 768.1 476.0 771.0C480.8 773.9 487.7 778.5 492.0 783.0C496.3 787.5 499.5 792.7 502.0 798.0C504.5 803.3 507.0 808.8 507.0 815.0C507.0 821.2 504.8 829.7 502.0 835.0C499.2 840.3 495.0 844.2 490.0 847.0C485.0 849.8 477.8 851.0 472.0 851.5C466.2 852.0 462.0 851.2 455.0 850.0C448.0 848.8 438.0 845.6 430.0 844.0C422.0 842.4 415.1 841.0 406.8 840.5C398.5 840.0 389.6 840.6 380.0 841.0C370.4 841.4 357.3 842.8 349.0 843.0C340.7 843.2 336.2 843.8 330.0 842.0C323.8 840.2 316.0 835.3 312.0 832.0C308.0 828.7 307.2 825.7 306.0 822.0C304.8 818.3 304.5 813.8 305.0 810.0C305.5 806.2 306.8 802.2 309.0 799.0C311.2 795.8 314.2 794.2 318.0 791.0C321.8 787.8 327.3 783.3 332.0 780.0C336.7 776.7 342.2 773.6 346.0 771.0C349.8 768.4 349.3 766.6 355.0 764.5C360.7 762.4 371.4 759.9 380.0 758.5C388.6 757.1 398.5 756.7 406.8 756.4Z" fill="#fdf4f0"/>
<path d="M406.8 768.6C411.8 768.6 420.2 768.6 425.0 769.0C429.8 769.4 433.7 768.8 435.5 771.0C437.3 773.2 435.7 779.2 436.0 782.0C436.3 784.8 436.6 786.5 437.5 788.0C438.4 789.5 440.1 790.8 441.3 790.8C442.6 790.8 444.1 789.5 445.0 788.0C445.9 786.5 445.9 783.6 446.5 782.0C447.1 780.4 446.6 779.1 448.5 778.5C450.4 777.9 453.8 777.8 458.0 778.5C462.2 779.2 469.7 781.1 473.5 783.0C477.3 784.9 479.8 787.3 481.0 790.0C482.2 792.7 481.7 796.3 481.0 799.0C480.3 801.7 477.2 802.5 477.0 806.0C476.8 809.5 478.8 815.7 480.0 820.0C481.2 824.3 484.3 828.8 484.0 832.0C483.7 835.2 480.2 838.0 478.0 839.0C475.8 840.0 472.5 838.7 471.0 838.0C469.5 837.3 469.7 836.2 469.0 835.0C468.3 833.8 467.8 832.2 467.0 831.0C466.2 829.8 465.0 828.2 464.0 827.5C463.0 826.8 462.0 826.4 461.0 826.5C460.0 826.6 459.0 827.1 458.0 828.0C457.0 828.9 456.3 831.0 455.0 832.0C453.7 833.0 451.8 833.8 450.0 834.0C448.2 834.2 445.7 834.2 444.0 833.5C442.3 832.8 441.1 831.8 440.0 830.0C438.9 828.2 438.2 824.9 437.5 823.0C436.8 821.1 436.4 819.5 435.5 818.5C434.6 817.5 433.5 817.0 432.4 817.0C431.3 817.0 430.0 817.5 429.0 818.5C428.0 819.5 427.5 821.6 426.5 823.0C425.5 824.4 424.4 826.2 423.0 827.0C421.6 827.8 420.7 827.5 418.0 827.5C415.3 827.5 411.5 827.0 406.8 827.0C402.1 827.0 395.1 827.4 390.0 827.5C384.9 827.6 378.8 828.4 376.0 827.5C373.2 826.6 374.6 823.8 373.0 822.0C371.4 820.2 368.4 817.2 366.5 817.0C364.6 816.8 362.5 818.7 361.5 821.0C360.5 823.3 363.2 829.3 360.5 831.0C357.8 832.7 349.8 831.5 345.0 831.0C340.2 830.5 335.8 830.2 332.0 828.0C328.2 825.8 324.0 821.7 322.0 818.0C320.0 814.3 319.3 809.8 320.0 806.0C320.7 802.2 323.3 798.2 326.0 795.0C328.7 791.8 332.7 789.2 336.0 787.0C339.3 784.8 342.8 783.9 346.0 782.0C349.2 780.1 351.7 777.2 355.0 775.5C358.3 773.8 363.2 772.4 366.0 772.0C368.8 771.6 370.8 771.3 372.0 773.0C373.2 774.7 371.8 779.5 373.0 782.0C374.2 784.5 377.0 787.7 379.0 787.7C381.0 787.7 383.8 784.6 385.0 782.0C386.2 779.4 384.3 774.2 386.0 772.0C387.7 769.8 391.5 769.6 395.0 769.0C398.5 768.4 401.8 768.6 406.8 768.6Z" fill="#fefaf9"/>
<path d="M406.8 756.4C415.1 756.1 422.8 756.4 430.0 756.8C437.2 757.1 444.5 757.0 450.0 758.5C455.5 760.0 458.7 763.4 463.0 765.5C467.3 767.6 471.2 768.1 476.0 771.0C480.8 773.9 487.7 778.5 492.0 783.0C496.3 787.5 499.5 792.7 502.0 798.0C504.5 803.3 507.0 808.8 507.0 815.0C507.0 821.2 504.8 829.7 502.0 835.0C499.2 840.3 495.0 844.2 490.0 847.0C485.0 849.8 477.8 851.0 472.0 851.5C466.2 852.0 462.0 851.2 455.0 850.0C448.0 848.8 438.0 845.6 430.0 844.0C422.0 842.4 415.1 841.0 406.8 840.5C398.5 840.0 389.6 840.6 380.0 841.0C370.4 841.4 357.3 842.8 349.0 843.0C340.7 843.2 336.2 843.8 330.0 842.0C323.8 840.2 316.0 835.3 312.0 832.0C308.0 828.7 307.2 825.7 306.0 822.0C304.8 818.3 304.5 813.8 305.0 810.0C305.5 806.2 306.8 802.2 309.0 799.0C311.2 795.8 314.2 794.2 318.0 791.0C321.8 787.8 327.3 783.3 332.0 780.0C336.7 776.7 342.2 773.6 346.0 771.0C349.8 768.4 349.3 766.6 355.0 764.5C360.7 762.4 371.4 759.9 380.0 758.5C388.6 757.1 398.5 756.7 406.8 756.4Z" fill="none" stroke="#ecd3c6" stroke-width="3.4" stroke-linejoin="round"/>
<path d="M406.8 756.4C415.1 756.1 422.8 756.4 430.0 756.8C437.2 757.1 444.5 757.0 450.0 758.5C455.5 760.0 458.7 763.4 463.0 765.5C467.3 767.6 471.2 768.1 476.0 771.0C480.8 773.9 487.7 778.5 492.0 783.0C496.3 787.5 499.5 792.7 502.0 798.0C504.5 803.3 507.0 808.8 507.0 815.0C507.0 821.2 504.8 829.7 502.0 835.0C499.2 840.3 495.0 844.2 490.0 847.0C485.0 849.8 477.8 851.0 472.0 851.5C466.2 852.0 462.0 851.2 455.0 850.0C448.0 848.8 438.0 845.6 430.0 844.0C422.0 842.4 415.1 841.0 406.8 840.5C398.5 840.0 389.6 840.6 380.0 841.0C370.4 841.4 357.3 842.8 349.0 843.0C340.7 843.2 336.2 843.8 330.0 842.0C323.8 840.2 316.0 835.3 312.0 832.0C308.0 828.7 307.2 825.7 306.0 822.0C304.8 818.3 304.5 813.8 305.0 810.0C305.5 806.2 306.8 802.2 309.0 799.0C311.2 795.8 314.2 794.2 318.0 791.0C321.8 787.8 327.3 783.3 332.0 780.0C336.7 776.7 342.2 773.6 346.0 771.0C349.8 768.4 349.3 766.6 355.0 764.5C360.7 762.4 371.4 759.9 380.0 758.5C388.6 757.1 398.5 756.7 406.8 756.4Z" fill="none" stroke="#fbefe9" stroke-width="1.3" stroke-linejoin="round"/>
<path d="M406.8 768.6C411.8 768.6 420.2 768.6 425.0 769.0C429.8 769.4 433.7 768.8 435.5 771.0C437.3 773.2 435.7 779.2 436.0 782.0C436.3 784.8 436.6 786.5 437.5 788.0C438.4 789.5 440.1 790.8 441.3 790.8C442.6 790.8 444.1 789.5 445.0 788.0C445.9 786.5 445.9 783.6 446.5 782.0C447.1 780.4 446.6 779.1 448.5 778.5C450.4 777.9 453.8 777.8 458.0 778.5C462.2 779.2 469.7 781.1 473.5 783.0C477.3 784.9 479.8 787.3 481.0 790.0C482.2 792.7 481.7 796.3 481.0 799.0C480.3 801.7 477.2 802.5 477.0 806.0C476.8 809.5 478.8 815.7 480.0 820.0C481.2 824.3 484.3 828.8 484.0 832.0C483.7 835.2 480.2 838.0 478.0 839.0C475.8 840.0 472.5 838.7 471.0 838.0C469.5 837.3 469.7 836.2 469.0 835.0C468.3 833.8 467.8 832.2 467.0 831.0C466.2 829.8 465.0 828.2 464.0 827.5C463.0 826.8 462.0 826.4 461.0 826.5C460.0 826.6 459.0 827.1 458.0 828.0C457.0 828.9 456.3 831.0 455.0 832.0C453.7 833.0 451.8 833.8 450.0 834.0C448.2 834.2 445.7 834.2 444.0 833.5C442.3 832.8 441.1 831.8 440.0 830.0C438.9 828.2 438.2 824.9 437.5 823.0C436.8 821.1 436.4 819.5 435.5 818.5C434.6 817.5 433.5 817.0 432.4 817.0C431.3 817.0 430.0 817.5 429.0 818.5C428.0 819.5 427.5 821.6 426.5 823.0C425.5 824.4 424.4 826.2 423.0 827.0C421.6 827.8 420.7 827.5 418.0 827.5C415.3 827.5 411.5 827.0 406.8 827.0C402.1 827.0 395.1 827.4 390.0 827.5C384.9 827.6 378.8 828.4 376.0 827.5C373.2 826.6 374.6 823.8 373.0 822.0C371.4 820.2 368.4 817.2 366.5 817.0C364.6 816.8 362.5 818.7 361.5 821.0C360.5 823.3 363.2 829.3 360.5 831.0C357.8 832.7 349.8 831.5 345.0 831.0C340.2 830.5 335.8 830.2 332.0 828.0C328.2 825.8 324.0 821.7 322.0 818.0C320.0 814.3 319.3 809.8 320.0 806.0C320.7 802.2 323.3 798.2 326.0 795.0C328.7 791.8 332.7 789.2 336.0 787.0C339.3 784.8 342.8 783.9 346.0 782.0C349.2 780.1 351.7 777.2 355.0 775.5C358.3 773.8 363.2 772.4 366.0 772.0C368.8 771.6 370.8 771.3 372.0 773.0C373.2 774.7 371.8 779.5 373.0 782.0C374.2 784.5 377.0 787.7 379.0 787.7C381.0 787.7 383.8 784.6 385.0 782.0C386.2 779.4 384.3 774.2 386.0 772.0C387.7 769.8 391.5 769.6 395.0 769.0C398.5 768.4 401.8 768.6 406.8 768.6Z" fill="none" stroke="#ecd3c6" stroke-width="3.4" stroke-linejoin="round"/>
<path d="M406.8 768.6C411.8 768.6 420.2 768.6 425.0 769.0C429.8 769.4 433.7 768.8 435.5 771.0C437.3 773.2 435.7 779.2 436.0 782.0C436.3 784.8 436.6 786.5 437.5 788.0C438.4 789.5 440.1 790.8 441.3 790.8C442.6 790.8 444.1 789.5 445.0 788.0C445.9 786.5 445.9 783.6 446.5 782.0C447.1 780.4 446.6 779.1 448.5 778.5C450.4 777.9 453.8 777.8 458.0 778.5C462.2 779.2 469.7 781.1 473.5 783.0C477.3 784.9 479.8 787.3 481.0 790.0C482.2 792.7 481.7 796.3 481.0 799.0C480.3 801.7 477.2 802.5 477.0 806.0C476.8 809.5 478.8 815.7 480.0 820.0C481.2 824.3 484.3 828.8 484.0 832.0C483.7 835.2 480.2 838.0 478.0 839.0C475.8 840.0 472.5 838.7 471.0 838.0C469.5 837.3 469.7 836.2 469.0 835.0C468.3 833.8 467.8 832.2 467.0 831.0C466.2 829.8 465.0 828.2 464.0 827.5C463.0 826.8 462.0 826.4 461.0 826.5C460.0 826.6 459.0 827.1 458.0 828.0C457.0 828.9 456.3 831.0 455.0 832.0C453.7 833.0 451.8 833.8 450.0 834.0C448.2 834.2 445.7 834.2 444.0 833.5C442.3 832.8 441.1 831.8 440.0 830.0C438.9 828.2 438.2 824.9 437.5 823.0C436.8 821.1 436.4 819.5 435.5 818.5C434.6 817.5 433.5 817.0 432.4 817.0C431.3 817.0 430.0 817.5 429.0 818.5C428.0 819.5 427.5 821.6 426.5 823.0C425.5 824.4 424.4 826.2 423.0 827.0C421.6 827.8 420.7 827.5 418.0 827.5C415.3 827.5 411.5 827.0 406.8 827.0C402.1 827.0 395.1 827.4 390.0 827.5C384.9 827.6 378.8 828.4 376.0 827.5C373.2 826.6 374.6 823.8 373.0 822.0C371.4 820.2 368.4 817.2 366.5 817.0C364.6 816.8 362.5 818.7 361.5 821.0C360.5 823.3 363.2 829.3 360.5 831.0C357.8 832.7 349.8 831.5 345.0 831.0C340.2 830.5 335.8 830.2 332.0 828.0C328.2 825.8 324.0 821.7 322.0 818.0C320.0 814.3 319.3 809.8 320.0 806.0C320.7 802.2 323.3 798.2 326.0 795.0C328.7 791.8 332.7 789.2 336.0 787.0C339.3 784.8 342.8 783.9 346.0 782.0C349.2 780.1 351.7 777.2 355.0 775.5C358.3 773.8 363.2 772.4 366.0 772.0C368.8 771.6 370.8 771.3 372.0 773.0C373.2 774.7 371.8 779.5 373.0 782.0C374.2 784.5 377.0 787.7 379.0 787.7C381.0 787.7 383.8 784.6 385.0 782.0C386.2 779.4 384.3 774.2 386.0 772.0C387.7 769.8 391.5 769.6 395.0 769.0C398.5 768.4 401.8 768.6 406.8 768.6Z" fill="none" stroke="#fbefe9" stroke-width="1.3" stroke-linejoin="round"/>
</g>
<g clip-path="url(#cHr)">
<path d="M406.8 756.4C415.1 756.1 422.8 756.4 430.0 756.8C437.2 757.1 444.5 757.0 450.0 758.5C455.5 760.0 458.7 763.4 463.0 765.5C467.3 767.6 471.2 768.1 476.0 771.0C480.8 773.9 487.7 778.5 492.0 783.0C496.3 787.5 499.5 792.7 502.0 798.0C504.5 803.3 507.0 808.8 507.0 815.0C507.0 821.2 504.8 829.7 502.0 835.0C499.2 840.3 495.0 844.2 490.0 847.0C485.0 849.8 477.8 851.0 472.0 851.5C466.2 852.0 462.0 851.2 455.0 850.0C448.0 848.8 438.0 845.6 430.0 844.0C422.0 842.4 415.1 841.0 406.8 840.5C398.5 840.0 389.6 840.6 380.0 841.0C370.4 841.4 357.3 842.8 349.0 843.0C340.7 843.2 336.2 843.8 330.0 842.0C323.8 840.2 316.0 835.3 312.0 832.0C308.0 828.7 307.2 825.7 306.0 822.0C304.8 818.3 304.5 813.8 305.0 810.0C305.5 806.2 306.8 802.2 309.0 799.0C311.2 795.8 314.2 794.2 318.0 791.0C321.8 787.8 327.3 783.3 332.0 780.0C336.7 776.7 342.2 773.6 346.0 771.0C349.8 768.4 349.3 766.6 355.0 764.5C360.7 762.4 371.4 759.9 380.0 758.5C388.6 757.1 398.5 756.7 406.8 756.4Z" fill="#fdf4f0"/>
<path d="M406.8 768.6C411.8 768.6 420.2 768.6 425.0 769.0C429.8 769.4 433.7 768.8 435.5 771.0C437.3 773.2 435.7 779.2 436.0 782.0C436.3 784.8 436.6 786.5 437.5 788.0C438.4 789.5 440.1 790.8 441.3 790.8C442.6 790.8 444.1 789.5 445.0 788.0C445.9 786.5 445.9 783.6 446.5 782.0C447.1 780.4 446.6 779.1 448.5 778.5C450.4 777.9 453.8 777.8 458.0 778.5C462.2 779.2 469.7 781.1 473.5 783.0C477.3 784.9 479.8 787.3 481.0 790.0C482.2 792.7 481.7 796.3 481.0 799.0C480.3 801.7 477.2 802.5 477.0 806.0C476.8 809.5 478.8 815.7 480.0 820.0C481.2 824.3 484.3 828.8 484.0 832.0C483.7 835.2 480.2 838.0 478.0 839.0C475.8 840.0 472.5 838.7 471.0 838.0C469.5 837.3 469.7 836.2 469.0 835.0C468.3 833.8 467.8 832.2 467.0 831.0C466.2 829.8 465.0 828.2 464.0 827.5C463.0 826.8 462.0 826.4 461.0 826.5C460.0 826.6 459.0 827.1 458.0 828.0C457.0 828.9 456.3 831.0 455.0 832.0C453.7 833.0 451.8 833.8 450.0 834.0C448.2 834.2 445.7 834.2 444.0 833.5C442.3 832.8 441.1 831.8 440.0 830.0C438.9 828.2 438.2 824.9 437.5 823.0C436.8 821.1 436.4 819.5 435.5 818.5C434.6 817.5 433.5 817.0 432.4 817.0C431.3 817.0 430.0 817.5 429.0 818.5C428.0 819.5 427.5 821.6 426.5 823.0C425.5 824.4 424.4 826.2 423.0 827.0C421.6 827.8 420.7 827.5 418.0 827.5C415.3 827.5 411.5 827.0 406.8 827.0C402.1 827.0 395.1 827.4 390.0 827.5C384.9 827.6 378.8 828.4 376.0 827.5C373.2 826.6 374.6 823.8 373.0 822.0C371.4 820.2 368.4 817.2 366.5 817.0C364.6 816.8 362.5 818.7 361.5 821.0C360.5 823.3 363.2 829.3 360.5 831.0C357.8 832.7 349.8 831.5 345.0 831.0C340.2 830.5 335.8 830.2 332.0 828.0C328.2 825.8 324.0 821.7 322.0 818.0C320.0 814.3 319.3 809.8 320.0 806.0C320.7 802.2 323.3 798.2 326.0 795.0C328.7 791.8 332.7 789.2 336.0 787.0C339.3 784.8 342.8 783.9 346.0 782.0C349.2 780.1 351.7 777.2 355.0 775.5C358.3 773.8 363.2 772.4 366.0 772.0C368.8 771.6 370.8 771.3 372.0 773.0C373.2 774.7 371.8 779.5 373.0 782.0C374.2 784.5 377.0 787.7 379.0 787.7C381.0 787.7 383.8 784.6 385.0 782.0C386.2 779.4 384.3 774.2 386.0 772.0C387.7 769.8 391.5 769.6 395.0 769.0C398.5 768.4 401.8 768.6 406.8 768.6Z" fill="#fefbfa"/>
<path d="M406.8 756.4C415.1 756.1 422.8 756.4 430.0 756.8C437.2 757.1 444.5 757.0 450.0 758.5C455.5 760.0 458.7 763.4 463.0 765.5C467.3 767.6 471.2 768.1 476.0 771.0C480.8 773.9 487.7 778.5 492.0 783.0C496.3 787.5 499.5 792.7 502.0 798.0C504.5 803.3 507.0 808.8 507.0 815.0C507.0 821.2 504.8 829.7 502.0 835.0C499.2 840.3 495.0 844.2 490.0 847.0C485.0 849.8 477.8 851.0 472.0 851.5C466.2 852.0 462.0 851.2 455.0 850.0C448.0 848.8 438.0 845.6 430.0 844.0C422.0 842.4 415.1 841.0 406.8 840.5C398.5 840.0 389.6 840.6 380.0 841.0C370.4 841.4 357.3 842.8 349.0 843.0C340.7 843.2 336.2 843.8 330.0 842.0C323.8 840.2 316.0 835.3 312.0 832.0C308.0 828.7 307.2 825.7 306.0 822.0C304.8 818.3 304.5 813.8 305.0 810.0C305.5 806.2 306.8 802.2 309.0 799.0C311.2 795.8 314.2 794.2 318.0 791.0C321.8 787.8 327.3 783.3 332.0 780.0C336.7 776.7 342.2 773.6 346.0 771.0C349.8 768.4 349.3 766.6 355.0 764.5C360.7 762.4 371.4 759.9 380.0 758.5C388.6 757.1 398.5 756.7 406.8 756.4Z" fill="none" stroke="#a56d55" stroke-width="3.4" stroke-linejoin="round"/>
<path d="M406.8 756.4C415.1 756.1 422.8 756.4 430.0 756.8C437.2 757.1 444.5 757.0 450.0 758.5C455.5 760.0 458.7 763.4 463.0 765.5C467.3 767.6 471.2 768.1 476.0 771.0C480.8 773.9 487.7 778.5 492.0 783.0C496.3 787.5 499.5 792.7 502.0 798.0C504.5 803.3 507.0 808.8 507.0 815.0C507.0 821.2 504.8 829.7 502.0 835.0C499.2 840.3 495.0 844.2 490.0 847.0C485.0 849.8 477.8 851.0 472.0 851.5C466.2 852.0 462.0 851.2 455.0 850.0C448.0 848.8 438.0 845.6 430.0 844.0C422.0 842.4 415.1 841.0 406.8 840.5C398.5 840.0 389.6 840.6 380.0 841.0C370.4 841.4 357.3 842.8 349.0 843.0C340.7 843.2 336.2 843.8 330.0 842.0C323.8 840.2 316.0 835.3 312.0 832.0C308.0 828.7 307.2 825.7 306.0 822.0C304.8 818.3 304.5 813.8 305.0 810.0C305.5 806.2 306.8 802.2 309.0 799.0C311.2 795.8 314.2 794.2 318.0 791.0C321.8 787.8 327.3 783.3 332.0 780.0C336.7 776.7 342.2 773.6 346.0 771.0C349.8 768.4 349.3 766.6 355.0 764.5C360.7 762.4 371.4 759.9 380.0 758.5C388.6 757.1 398.5 756.7 406.8 756.4Z" fill="none" stroke="#f3d3c3" stroke-width="1.3" stroke-linejoin="round"/>
<path d="M406.8 768.6C411.8 768.6 420.2 768.6 425.0 769.0C429.8 769.4 433.7 768.8 435.5 771.0C437.3 773.2 435.7 779.2 436.0 782.0C436.3 784.8 436.6 786.5 437.5 788.0C438.4 789.5 440.1 790.8 441.3 790.8C442.6 790.8 444.1 789.5 445.0 788.0C445.9 786.5 445.9 783.6 446.5 782.0C447.1 780.4 446.6 779.1 448.5 778.5C450.4 777.9 453.8 777.8 458.0 778.5C462.2 779.2 469.7 781.1 473.5 783.0C477.3 784.9 479.8 787.3 481.0 790.0C482.2 792.7 481.7 796.3 481.0 799.0C480.3 801.7 477.2 802.5 477.0 806.0C476.8 809.5 478.8 815.7 480.0 820.0C481.2 824.3 484.3 828.8 484.0 832.0C483.7 835.2 480.2 838.0 478.0 839.0C475.8 840.0 472.5 838.7 471.0 838.0C469.5 837.3 469.7 836.2 469.0 835.0C468.3 833.8 467.8 832.2 467.0 831.0C466.2 829.8 465.0 828.2 464.0 827.5C463.0 826.8 462.0 826.4 461.0 826.5C460.0 826.6 459.0 827.1 458.0 828.0C457.0 828.9 456.3 831.0 455.0 832.0C453.7 833.0 451.8 833.8 450.0 834.0C448.2 834.2 445.7 834.2 444.0 833.5C442.3 832.8 441.1 831.8 440.0 830.0C438.9 828.2 438.2 824.9 437.5 823.0C436.8 821.1 436.4 819.5 435.5 818.5C434.6 817.5 433.5 817.0 432.4 817.0C431.3 817.0 430.0 817.5 429.0 818.5C428.0 819.5 427.5 821.6 426.5 823.0C425.5 824.4 424.4 826.2 423.0 827.0C421.6 827.8 420.7 827.5 418.0 827.5C415.3 827.5 411.5 827.0 406.8 827.0C402.1 827.0 395.1 827.4 390.0 827.5C384.9 827.6 378.8 828.4 376.0 827.5C373.2 826.6 374.6 823.8 373.0 822.0C371.4 820.2 368.4 817.2 366.5 817.0C364.6 816.8 362.5 818.7 361.5 821.0C360.5 823.3 363.2 829.3 360.5 831.0C357.8 832.7 349.8 831.5 345.0 831.0C340.2 830.5 335.8 830.2 332.0 828.0C328.2 825.8 324.0 821.7 322.0 818.0C320.0 814.3 319.3 809.8 320.0 806.0C320.7 802.2 323.3 798.2 326.0 795.0C328.7 791.8 332.7 789.2 336.0 787.0C339.3 784.8 342.8 783.9 346.0 782.0C349.2 780.1 351.7 777.2 355.0 775.5C358.3 773.8 363.2 772.4 366.0 772.0C368.8 771.6 370.8 771.3 372.0 773.0C373.2 774.7 371.8 779.5 373.0 782.0C374.2 784.5 377.0 787.7 379.0 787.7C381.0 787.7 383.8 784.6 385.0 782.0C386.2 779.4 384.3 774.2 386.0 772.0C387.7 769.8 391.5 769.6 395.0 769.0C398.5 768.4 401.8 768.6 406.8 768.6Z" fill="none" stroke="#a56d55" stroke-width="3.4" stroke-linejoin="round"/>
<path d="M406.8 768.6C411.8 768.6 420.2 768.6 425.0 769.0C429.8 769.4 433.7 768.8 435.5 771.0C437.3 773.2 435.7 779.2 436.0 782.0C436.3 784.8 436.6 786.5 437.5 788.0C438.4 789.5 440.1 790.8 441.3 790.8C442.6 790.8 444.1 789.5 445.0 788.0C445.9 786.5 445.9 783.6 446.5 782.0C447.1 780.4 446.6 779.1 448.5 778.5C450.4 777.9 453.8 777.8 458.0 778.5C462.2 779.2 469.7 781.1 473.5 783.0C477.3 784.9 479.8 787.3 481.0 790.0C482.2 792.7 481.7 796.3 481.0 799.0C480.3 801.7 477.2 802.5 477.0 806.0C476.8 809.5 478.8 815.7 480.0 820.0C481.2 824.3 484.3 828.8 484.0 832.0C483.7 835.2 480.2 838.0 478.0 839.0C475.8 840.0 472.5 838.7 471.0 838.0C469.5 837.3 469.7 836.2 469.0 835.0C468.3 833.8 467.8 832.2 467.0 831.0C466.2 829.8 465.0 828.2 464.0 827.5C463.0 826.8 462.0 826.4 461.0 826.5C460.0 826.6 459.0 827.1 458.0 828.0C457.0 828.9 456.3 831.0 455.0 832.0C453.7 833.0 451.8 833.8 450.0 834.0C448.2 834.2 445.7 834.2 444.0 833.5C442.3 832.8 441.1 831.8 440.0 830.0C438.9 828.2 438.2 824.9 437.5 823.0C436.8 821.1 436.4 819.5 435.5 818.5C434.6 817.5 433.5 817.0 432.4 817.0C431.3 817.0 430.0 817.5 429.0 818.5C428.0 819.5 427.5 821.6 426.5 823.0C425.5 824.4 424.4 826.2 423.0 827.0C421.6 827.8 420.7 827.5 418.0 827.5C415.3 827.5 411.5 827.0 406.8 827.0C402.1 827.0 395.1 827.4 390.0 827.5C384.9 827.6 378.8 828.4 376.0 827.5C373.2 826.6 374.6 823.8 373.0 822.0C371.4 820.2 368.4 817.2 366.5 817.0C364.6 816.8 362.5 818.7 361.5 821.0C360.5 823.3 363.2 829.3 360.5 831.0C357.8 832.7 349.8 831.5 345.0 831.0C340.2 830.5 335.8 830.2 332.0 828.0C328.2 825.8 324.0 821.7 322.0 818.0C320.0 814.3 319.3 809.8 320.0 806.0C320.7 802.2 323.3 798.2 326.0 795.0C328.7 791.8 332.7 789.2 336.0 787.0C339.3 784.8 342.8 783.9 346.0 782.0C349.2 780.1 351.7 777.2 355.0 775.5C358.3 773.8 363.2 772.4 366.0 772.0C368.8 771.6 370.8 771.3 372.0 773.0C373.2 774.7 371.8 779.5 373.0 782.0C374.2 784.5 377.0 787.7 379.0 787.7C381.0 787.7 383.8 784.6 385.0 782.0C386.2 779.4 384.3 774.2 386.0 772.0C387.7 769.8 391.5 769.6 395.0 769.0C398.5 768.4 401.8 768.6 406.8 768.6Z" fill="none" stroke="#f3d3c3" stroke-width="1.3" stroke-linejoin="round"/>
</g>
<rect x="77.6" y="737" width="61.1" height="24.0" rx="2.6" fill="#fdf8f5" stroke="#ecdcd2" stroke-width="0.8"/>
<text x="108.1" y="744.1" font-size="7.3" font-weight="bold" text-anchor="middle" fill="#111" >Structure/</text>
<text x="108.1" y="751.2" font-size="7.3" font-weight="bold" text-anchor="middle" fill="#111" >Other Function</text>
<text x="108.1" y="758.0" font-size="7.3" text-anchor="middle" fill="#111" >Letm1</text>
<rect x="10.7" y="764.9" width="66.9" height="33.8" rx="2.6" fill="#fdf8f5" stroke="#ecdcd2" stroke-width="0.8"/>
<text x="44.1" y="772.8" font-size="7.3" font-weight="bold" text-anchor="middle" fill="#111" >Oxidative</text>
<text x="44.1" y="779.9" font-size="7.3" font-weight="bold" text-anchor="middle" fill="#111" >Phosphorylation</text>
<text x="44.1" y="787.3" font-size="7.3" text-anchor="middle" fill="#111" >Mt-nd6</text>
<text x="44.1" y="794.9" font-size="7.3" text-anchor="middle" fill="#111" >Hccs</text>
<rect x="24.7" y="811" width="49.1" height="67.3" rx="2.6" fill="#fdf8f5" stroke="#ecdcd2" stroke-width="0.8"/>
<text x="49.2" y="819.9" font-size="7.3" font-weight="bold" text-anchor="middle" fill="#111" >Metabolism</text>
<text x="49.2" y="827.6" font-size="7.3" text-anchor="middle" fill="#111" >Timm8a2</text>
<text x="49.2" y="834.9" font-size="7.3" text-anchor="middle" fill="#111" >Amt</text>
<text x="49.2" y="842.6" font-size="7.3" text-anchor="middle" fill="#111" >Aco2</text>
<text x="49.2" y="849.9" font-size="7.3" text-anchor="middle" fill="#111" >Hibadh</text>
<text x="49.2" y="857.3" font-size="7.3" text-anchor="middle" fill="#111" >Slc25a10</text>
<text x="49.2" y="864.9" font-size="7.3" text-anchor="middle" fill="#111" >Ethe1</text>
<text x="49.2" y="872.3" font-size="7.3" text-anchor="middle" fill="#111" >Pgs1</text>
<rect x="82.7" y="833" width="49.6" height="35.7" rx="2.6" fill="#fdf8f5" stroke="#ecdcd2" stroke-width="0.8"/>
<text x="107.5" y="840.6" font-size="7.3" font-weight="bold" text-anchor="middle" fill="#111" >Cell</text>
<text x="107.5" y="848.6" font-size="7.3" font-weight="bold" text-anchor="middle" fill="#111" >Signaling &</text>
<text x="107.5" y="856.3" font-size="7.3" font-weight="bold" text-anchor="middle" fill="#111" >Cell Fate</text>
<text x="107.5" y="863.6" font-size="7.3" text-anchor="middle" fill="#111" >Atad1</text>
<rect x="153.3" y="747.8" width="67.7" height="19.6" rx="2.6" fill="#f2dbc0" stroke="#a97a57" stroke-width="1.0"/>
<text x="187.2" y="756.1" font-size="7.3" font-weight="bold" text-anchor="middle" fill="#111" >Oxidative Repair</text>
<text x="187.2" y="764.1" font-size="7.3" text-anchor="middle" fill="#111" >Ogg1</text>
<rect x="202" y="778.4" width="66.3" height="39.0" rx="2.6" fill="#f2dbc0" stroke="#a97a57" stroke-width="1.0"/>
<text x="235.2" y="788.6" font-size="7.3" font-weight="bold" text-anchor="middle" fill="#111" >Oxidative</text>
<text x="235.2" y="796.2" font-size="7.3" font-weight="bold" text-anchor="middle" fill="#111" >Phosphorylation</text>
<text x="235.2" y="803.1" font-size="7.3" text-anchor="middle" fill="#111" >Cep89</text>
<text x="235.2" y="810.4" font-size="7.3" text-anchor="middle" fill="#111" >Ndufa8</text>
<rect x="153.2" y="827.6" width="62.4" height="34.4" rx="2.6" fill="#f2dbc0" stroke="#a97a57" stroke-width="1.0"/>
<text x="184.4" y="835.0" font-size="7.3" font-weight="bold" text-anchor="middle" fill="#111" >MitoRibosomes</text>
<text x="184.4" y="842.6" font-size="7.3" font-weight="bold" text-anchor="middle" fill="#111" >&amp; Biosynthesis</text>
<text x="184.4" y="849.4" font-size="7.3" text-anchor="middle" fill="#111" >Ptrh2</text>
<text x="184.4" y="857.0" font-size="7.3" text-anchor="middle" fill="#111" >Rexo2</text>
<rect x="283.9" y="736.9" width="61.1" height="53.4" rx="2.6" fill="#fdf8f5" stroke="#ecdcd2" stroke-width="0.8"/>
<text x="314.4" y="746.4" font-size="7.3" font-weight="bold" text-anchor="middle" fill="#111" >MitoRibosomes</text>
<text x="314.4" y="753.5" font-size="7.3" font-weight="bold" text-anchor="middle" fill="#111" >&amp; Biosynthesis</text>
<text x="314.4" y="761.1" font-size="7.3" text-anchor="middle" fill="#111" >Angel2</text>
<text x="314.4" y="768.8" font-size="7.3" text-anchor="middle" fill="#111" >Gatc</text>
<text x="314.4" y="775.9" font-size="7.3" text-anchor="middle" fill="#111" >Mtfmt</text>
<text x="314.4" y="783.3" font-size="7.3" text-anchor="middle" fill="#111" >Twnk</text>
<rect x="354.4" y="742" width="47.9" height="37.4" rx="2.6" fill="#fdf8f5" stroke="#ecdcd2" stroke-width="0.8"/>
<text x="378.4" y="750.9" font-size="7.3" font-weight="bold" text-anchor="middle" fill="#111" >Cell</text>
<text x="378.4" y="758.1" font-size="7.3" font-weight="bold" text-anchor="middle" fill="#111" >Signaling &amp;</text>
<text x="378.4" y="765.4" font-size="7.3" font-weight="bold" text-anchor="middle" fill="#111" >Cell Fate</text>
<text x="378.4" y="773.1" font-size="7.3" text-anchor="middle" fill="#111" >Mtch2</text>
<rect x="279.6" y="798.3" width="65.4" height="24.4" rx="2.6" fill="#fdf8f5" stroke="#ecdcd2" stroke-width="0.8"/>
<text x="312.3" y="805.0" font-size="7.3" font-weight="bold" text-anchor="middle" fill="#111" >Oxidative</text>
<text x="312.3" y="812.4" font-size="7.3" font-weight="bold" text-anchor="middle" fill="#111" >Phosphorylation</text>
<text x="312.3" y="819.8" font-size="7.3" text-anchor="middle" fill="#111" >Sdhaf2</text>
<rect x="289.8" y="830.9" width="48.3" height="25.4" rx="2.6" fill="#fdf8f5" stroke="#ecdcd2" stroke-width="0.8"/>
<text x="314.0" y="838.1" font-size="7.3" font-weight="bold" text-anchor="middle" fill="#111" >Oxidative</text>
<text x="314.0" y="845.4" font-size="7.3" font-weight="bold" text-anchor="middle" fill="#111" >Repair</text>
<text x="314.0" y="852.8" font-size="7.3" text-anchor="middle" fill="#111" >Prdx6</text>
<rect x="348.8" y="830.9" width="47.8" height="34.3" rx="2.6" fill="#fdf8f5" stroke="#ecdcd2" stroke-width="0.8"/>
<text x="372.7" y="838.6" font-size="7.3" font-weight="bold" text-anchor="middle" fill="#111" >Metabolism</text>
<text x="372.7" y="845.7" font-size="7.3" text-anchor="middle" fill="#111" >Ckmt1</text>
<text x="372.7" y="853.3" font-size="7.3" text-anchor="middle" fill="#111" >Slc25a25</text>
<text x="372.7" y="861.0" font-size="7.3" text-anchor="middle" fill="#111" >Micu2</text>
<rect x="410.8" y="741.4" width="49.2" height="32.7" rx="2.6" fill="#f2dbc0" stroke="#a97a57" stroke-width="1.0"/>
<text x="435.4" y="749.0" font-size="7.3" font-weight="bold" text-anchor="middle" fill="#111" >Cell</text>
<text x="435.4" y="756.0" font-size="7.3" font-weight="bold" text-anchor="middle" fill="#111" >Signaling &amp;</text>
<text x="435.4" y="763.1" font-size="7.3" font-weight="bold" text-anchor="middle" fill="#111" >Cell Fate</text>
<text x="435.4" y="770.4" font-size="7.3" text-anchor="middle" fill="#111" >Ociad1</text>
<rect x="473.6" y="732.2" width="61.9" height="57.8" rx="2.6" fill="#f2dbc0" stroke="#a97a57" stroke-width="1.0"/>
<text x="504.6" y="740.2" font-size="7.3" font-weight="bold" text-anchor="middle" fill="#111" >MitoRibosomes</text>
<text x="504.6" y="747.9" font-size="7.3" font-weight="bold" text-anchor="middle" fill="#111" >&amp; Biosynthesis</text>
<text x="504.6" y="755.0" font-size="7.3" text-anchor="middle" fill="#111" >Mrpl2</text>
<text x="504.6" y="762.7" font-size="7.3" text-anchor="middle" fill="#111" >Mrpl22</text>
<text x="504.6" y="770.1" font-size="7.3" text-anchor="middle" fill="#111" >Mtg1</text>
<text x="504.6" y="777.6" font-size="7.3" text-anchor="middle" fill="#111" >Mtres1</text>
<text x="504.6" y="784.9" font-size="7.3" text-anchor="middle" fill="#111" >Polg2</text>
<rect x="477.2" y="799.9" width="66.5" height="32.7" rx="2.6" fill="#f2dbc0" stroke="#a97a57" stroke-width="1.0"/>
<text x="510.5" y="807.6" font-size="7.3" font-weight="bold" text-anchor="middle" fill="#111" >Oxidative</text>
<text x="510.5" y="814.8" font-size="7.3" font-weight="bold" text-anchor="middle" fill="#111" >Phosphorylation</text>
<text x="510.5" y="822.1" font-size="7.3" text-anchor="middle" fill="#111" >Cox19</text>
<text x="510.5" y="829.0" font-size="7.3" text-anchor="middle" fill="#111" >Coq9</text>
<rect x="410.9" y="837.3" width="48.6" height="41.4" rx="2.6" fill="#f2dbc0" stroke="#a97a57" stroke-width="1.0"/>
<text x="435.2" y="844.8" font-size="7.3" font-weight="bold" text-anchor="middle" fill="#111" >Metabolism</text>
<text x="435.2" y="852.1" font-size="7.3" text-anchor="middle" fill="#111" >Qdpr</text>
<text x="435.2" y="859.5" font-size="7.3" text-anchor="middle" fill="#111" >Rtn4ip1</text>
<text x="435.2" y="867.1" font-size="7.3" text-anchor="middle" fill="#111" >Cyb5r3</text>
<text x="435.2" y="874.5" font-size="7.3" text-anchor="middle" fill="#111" >Dhrs7b</text>
<rect x="469.5" y="840" width="60.0" height="25.0" rx="2.6" fill="#f2dbc0" stroke="#a97a57" stroke-width="1.0"/>
<text x="499.5" y="847.2" font-size="7.3" font-weight="bold" text-anchor="middle" fill="#111" >Structure/</text>
<text x="499.5" y="854.3" font-size="7.3" font-weight="bold" text-anchor="middle" fill="#111" >Other Function</text>
<text x="499.5" y="862.2" font-size="7.3" text-anchor="middle" fill="#111" >Pmpca</text>
<line x1="140.8" y1="710" x2="140.8" y2="886" stroke="#555" stroke-width="0.7" stroke-dasharray="0.9,1.1"/>
<line x1="406.6" y1="710" x2="406.6" y2="886" stroke="#555" stroke-width="0.7" stroke-dasharray="0.9,1.1"/>
<text x="5.2" y="716.6" font-size="14" font-weight="bold" >D</text>
<text x="65.6" y="724.2" font-size="14.7" font-weight="bold" >DOWN</text>
<text x="197.5" y="724.6" font-size="14.7" font-weight="bold" >UP</text>
<text x="269.6" y="716.6" font-size="14" font-weight="bold" >H</text>
<text x="336.8" y="722.9" font-size="14.7" font-weight="bold" >DOWN</text>
<text x="469.0" y="722.4" font-size="14.7" font-weight="bold" >UP</text>
</svg>
</body></html>
